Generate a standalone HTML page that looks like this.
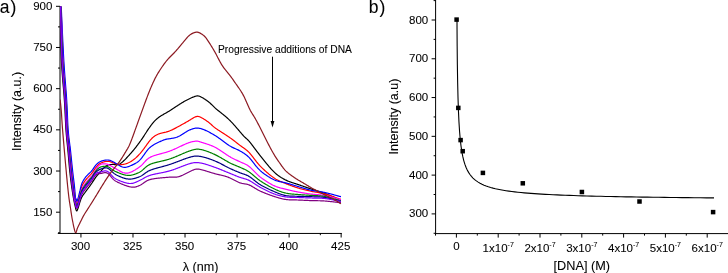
<!DOCTYPE html>
<html><head><meta charset="utf-8"><style>
html,body{margin:0;padding:0;background:#fff;}
svg{display:block;will-change:transform;}
text{font-family:"Liberation Sans",sans-serif;fill:#000;stroke:#000;stroke-width:0.08px;}
</style></head><body>
<svg width="728" height="273" viewBox="0 0 728 273" shape-rendering="auto">
<line x1="60.00" y1="6.30" x2="60.00" y2="233.50" stroke="#000" stroke-width="1"/>
<line x1="57.80" y1="233.45" x2="341.70" y2="233.45" stroke="#000" stroke-width="1"/>
<line x1="56.00" y1="212.20" x2="60.00" y2="212.20" stroke="#000" stroke-width="1"/>
<text x="52.40" y="215.80" font-size="11.5" text-anchor="end" >150</text>
<line x1="56.00" y1="171.02" x2="60.00" y2="171.02" stroke="#000" stroke-width="1"/>
<text x="52.40" y="174.62" font-size="11.5" text-anchor="end" >300</text>
<line x1="56.00" y1="129.84" x2="60.00" y2="129.84" stroke="#000" stroke-width="1"/>
<text x="52.40" y="133.44" font-size="11.5" text-anchor="end" >450</text>
<line x1="56.00" y1="88.66" x2="60.00" y2="88.66" stroke="#000" stroke-width="1"/>
<text x="52.40" y="92.26" font-size="11.5" text-anchor="end" >600</text>
<line x1="56.00" y1="47.48" x2="60.00" y2="47.48" stroke="#000" stroke-width="1"/>
<text x="52.40" y="51.08" font-size="11.5" text-anchor="end" >750</text>
<line x1="56.00" y1="6.30" x2="60.00" y2="6.30" stroke="#000" stroke-width="1"/>
<text x="52.40" y="9.90" font-size="11.5" text-anchor="end" >900</text>
<line x1="58.00" y1="232.79" x2="60.00" y2="232.79" stroke="#000" stroke-width="1"/>
<line x1="58.00" y1="191.61" x2="60.00" y2="191.61" stroke="#000" stroke-width="1"/>
<line x1="58.00" y1="150.43" x2="60.00" y2="150.43" stroke="#000" stroke-width="1"/>
<line x1="58.00" y1="109.25" x2="60.00" y2="109.25" stroke="#000" stroke-width="1"/>
<line x1="58.00" y1="68.07" x2="60.00" y2="68.07" stroke="#000" stroke-width="1"/>
<line x1="58.00" y1="26.89" x2="60.00" y2="26.89" stroke="#000" stroke-width="1"/>
<line x1="80.95" y1="233.00" x2="80.95" y2="237.50" stroke="#000" stroke-width="1"/>
<text x="80.50" y="249.80" font-size="11.5" text-anchor="middle" >300</text>
<line x1="132.99" y1="233.00" x2="132.99" y2="237.50" stroke="#000" stroke-width="1"/>
<text x="132.54" y="249.80" font-size="11.5" text-anchor="middle" >325</text>
<line x1="185.03" y1="233.00" x2="185.03" y2="237.50" stroke="#000" stroke-width="1"/>
<text x="184.58" y="249.80" font-size="11.5" text-anchor="middle" >350</text>
<line x1="237.07" y1="233.00" x2="237.07" y2="237.50" stroke="#000" stroke-width="1"/>
<text x="236.62" y="249.80" font-size="11.5" text-anchor="middle" >375</text>
<line x1="289.11" y1="233.00" x2="289.11" y2="237.50" stroke="#000" stroke-width="1"/>
<text x="288.66" y="249.80" font-size="11.5" text-anchor="middle" >400</text>
<line x1="341.15" y1="233.00" x2="341.15" y2="237.50" stroke="#000" stroke-width="1"/>
<text x="340.70" y="249.80" font-size="11.5" text-anchor="middle" >425</text>
<line x1="112.17" y1="233.00" x2="112.17" y2="235.20" stroke="#000" stroke-width="1"/>
<line x1="164.21" y1="233.00" x2="164.21" y2="235.20" stroke="#000" stroke-width="1"/>
<line x1="216.25" y1="233.00" x2="216.25" y2="235.20" stroke="#000" stroke-width="1"/>
<line x1="268.29" y1="233.00" x2="268.29" y2="235.20" stroke="#000" stroke-width="1"/>
<line x1="320.33" y1="233.00" x2="320.33" y2="235.20" stroke="#000" stroke-width="1"/>
<text x="200.60" y="270.60" font-size="12.6" text-anchor="middle" >&#955; (nm)</text>
<text x="20.80" y="111.50" font-size="12.5" text-anchor="middle" transform="rotate(-90 20.8 111.5)">Intensity (a.u.)</text>
<text x="218.00" y="53.10" font-size="10.25" text-anchor="start" >Progressive additions of DNA</text>
<line x1="272.50" y1="56.70" x2="272.50" y2="122.00" stroke="#000" stroke-width="1"/>
<path d="M270.6,121 L274.4,121 L272.5,127.5 Z" fill="#000"/>
<text x="-0.2" y="12.9" font-size="17.5">a<tspan x="10.6">)</tspan></text>
<clipPath id="ca"><rect x="60" y="6.3" width="282" height="227"/></clipPath>
<g clip-path="url(#ca)"><path d="M60.30,6.31 L60.35,8.95 L60.40,12.32 L60.45,16.29 L60.51,20.75 L60.58,25.59 L60.66,30.68 L60.75,35.91 L60.85,41.16 L60.97,46.32 L61.09,51.27 L61.24,55.89 L61.40,60.06 L61.59,63.91 L61.81,67.65 L62.05,71.28 L62.31,74.81 L62.59,78.25 L62.87,81.60 L63.15,84.87 L63.43,88.06 L63.70,91.18 L63.96,94.24 L64.19,97.24 L64.40,100.18 L64.58,103.07 L64.74,105.89 L64.89,108.64 L65.03,111.32 L65.15,113.93 L65.27,116.47 L65.38,118.94 L65.50,121.34 L65.61,123.67 L65.73,125.93 L65.86,128.13 L66.00,130.25 L66.15,132.27 L66.30,134.17 L66.46,135.97 L66.61,137.68 L66.78,139.32 L66.94,140.91 L67.10,142.47 L67.26,144.01 L67.42,145.54 L67.59,147.10 L67.74,148.69 L67.90,150.33 L68.05,152.02 L68.21,153.73 L68.36,155.47 L68.51,157.21 L68.66,158.95 L68.81,160.68 L68.96,162.39 L69.10,164.08 L69.25,165.74 L69.40,167.35 L69.55,168.91 L69.70,170.40 L69.85,171.84 L70.00,173.23 L70.14,174.57 L70.29,175.87 L70.43,177.13 L70.58,178.37 L70.73,179.58 L70.88,180.78 L71.03,181.96 L71.18,183.13 L71.34,184.30 L71.50,185.48 L71.67,186.67 L71.84,187.86 L72.02,189.06 L72.20,190.25 L72.38,191.42 L72.57,192.58 L72.75,193.71 L72.93,194.81 L73.11,195.86 L73.28,196.87 L73.45,197.82 L73.60,198.70 L73.75,199.52 L73.88,200.27 L74.02,200.97 L74.14,201.62 L74.27,202.23 L74.39,202.81 L74.51,203.35 L74.62,203.88 L74.74,204.39 L74.86,204.89 L74.98,205.39 L75.10,205.89 L75.22,206.41 L75.35,206.94 L75.47,207.48 L75.60,208.01 L75.72,208.53 L75.84,209.02 L75.97,209.48 L76.09,209.89 L76.22,210.24 L76.34,210.53 L76.47,210.74 L76.60,210.87 L76.73,210.90 L76.86,210.84 L76.99,210.71 L77.13,210.51 L77.26,210.25 L77.39,209.95 L77.53,209.61 L77.66,209.25 L77.80,208.87 L77.93,208.49 L78.07,208.11 L78.20,207.74 L78.33,207.38 L78.46,206.98 L78.59,206.57 L78.72,206.13 L78.85,205.68 L78.97,205.22 L79.10,204.75 L79.24,204.27 L79.37,203.80 L79.51,203.33 L79.65,202.87 L79.80,202.42 L79.95,201.98 L80.10,201.53 L80.24,201.08 L80.39,200.64 L80.54,200.19 L80.70,199.74 L80.86,199.30 L81.03,198.86 L81.21,198.42 L81.39,197.99 L81.59,197.56 L81.80,197.14 L82.03,196.73 L82.27,196.33 L82.52,195.92 L82.79,195.53 L83.06,195.13 L83.34,194.74 L83.62,194.36 L83.90,193.98 L84.19,193.60 L84.46,193.23 L84.74,192.86 L85.00,192.50 L85.25,192.15 L85.50,191.81 L85.74,191.49 L85.98,191.17 L86.21,190.86 L86.45,190.55 L86.69,190.24 L86.93,189.92 L87.18,189.59 L87.44,189.25 L87.72,188.88 L88.00,188.50 L88.30,188.10 L88.61,187.68 L88.93,187.25 L89.26,186.80 L89.60,186.35 L89.94,185.89 L90.28,185.42 L90.63,184.94 L90.98,184.46 L91.32,183.97 L91.66,183.49 L92.00,183.00 L92.50,182.19 L93.00,181.40 L93.50,180.60 L94.00,179.82 L94.50,179.05 L95.00,178.31 L95.50,177.59 L96.00,176.92 L96.50,176.28 L97.00,175.67 L97.50,175.08 L98.00,174.51 L98.50,173.94 L99.00,173.38 L99.50,172.81 L100.00,172.25 L100.50,171.68 L101.00,171.11 L101.50,170.54 L102.00,169.97 L102.50,169.41 L103.00,168.86 L103.50,168.33 L104.00,167.81 L104.50,167.32 L105.00,166.86 L105.50,166.43 L106.00,166.05 L106.50,165.71 L107.00,165.43 L107.50,165.19 L108.00,165.00 L108.50,164.85 L109.00,164.74 L109.50,164.66 L110.00,164.59 L110.50,164.55 L111.00,164.52 L111.50,164.49 L112.00,164.47 L112.50,164.46 L113.00,164.47 L113.50,164.48 L114.00,164.50 L114.50,164.53 L115.00,164.56 L115.50,164.59 L116.00,164.62 L116.50,164.62 L117.00,164.60 L117.50,164.56 L118.00,164.47 L118.50,164.34 L119.00,164.18 L119.50,163.96 L120.00,163.71 L120.50,163.42 L121.00,163.09 L121.50,162.73 L122.00,162.34 L122.50,161.92 L123.00,161.48 L123.50,161.03 L124.00,160.56 L124.50,160.07 L125.00,159.58 L125.50,159.07 L126.00,158.55 L126.50,158.03 L127.00,157.50 L127.50,156.96 L128.00,156.42 L128.50,155.87 L129.00,155.32 L129.50,154.77 L130.00,154.21 L130.50,153.64 L131.00,153.07 L131.50,152.50 L132.00,151.92 L132.50,151.33 L133.00,150.74 L133.50,150.13 L134.00,149.52 L134.50,148.91 L135.00,148.28 L135.50,147.65 L136.00,147.01 L136.50,146.37 L137.00,145.72 L137.50,145.06 L138.00,144.40 L138.50,143.73 L139.00,143.06 L139.50,142.37 L140.00,141.68 L140.50,140.98 L141.00,140.27 L141.50,139.55 L142.00,138.82 L142.50,138.08 L143.00,137.32 L143.50,136.57 L144.00,135.80 L144.50,135.03 L145.00,134.26 L145.50,133.50 L146.00,132.73 L146.50,131.96 L147.00,131.20 L147.50,130.44 L148.00,129.69 L148.50,128.95 L149.00,128.22 L149.50,127.50 L150.00,126.79 L150.50,126.09 L151.00,125.41 L151.50,124.74 L152.00,124.10 L152.50,123.47 L153.00,122.86 L153.50,122.27 L154.00,121.70 L154.50,121.16 L155.00,120.64 L155.50,120.14 L156.00,119.67 L156.50,119.21 L157.00,118.78 L157.50,118.36 L158.00,117.96 L158.50,117.58 L159.00,117.21 L159.50,116.85 L160.00,116.51 L160.50,116.18 L161.00,115.86 L161.50,115.54 L162.00,115.24 L162.50,114.94 L163.00,114.65 L163.50,114.36 L164.00,114.08 L164.50,113.80 L165.00,113.52 L165.50,113.24 L166.00,112.95 L166.50,112.67 L167.00,112.39 L167.50,112.10 L168.00,111.80 L168.50,111.50 L169.00,111.20 L169.50,110.89 L170.00,110.57 L170.50,110.25 L171.00,109.93 L171.50,109.60 L172.00,109.27 L172.50,108.94 L173.00,108.61 L173.50,108.28 L174.00,107.95 L174.50,107.62 L175.00,107.29 L175.50,106.95 L176.00,106.62 L176.50,106.29 L177.00,105.96 L177.50,105.64 L178.00,105.31 L178.50,104.98 L179.00,104.66 L179.50,104.34 L180.00,104.02 L180.50,103.70 L181.00,103.39 L181.50,103.08 L182.00,102.77 L182.50,102.46 L183.00,102.16 L183.50,101.87 L184.00,101.58 L184.50,101.29 L185.00,101.01 L185.50,100.73 L186.00,100.46 L186.50,100.19 L187.00,99.93 L187.50,99.67 L188.00,99.42 L188.50,99.17 L189.00,98.93 L189.50,98.69 L190.00,98.46 L190.50,98.23 L191.00,98.00 L191.50,97.78 L192.00,97.57 L192.50,97.36 L193.00,97.16 L193.50,96.96 L194.00,96.78 L194.50,96.60 L195.00,96.43 L195.50,96.27 L196.00,96.14 L196.50,96.03 L197.00,95.95 L197.50,95.91 L198.00,95.93 L198.50,95.99 L199.00,96.10 L199.50,96.26 L200.00,96.45 L200.50,96.67 L201.00,96.92 L201.50,97.18 L202.00,97.46 L202.50,97.75 L203.00,98.05 L203.50,98.36 L204.00,98.67 L204.50,98.99 L205.00,99.32 L205.50,99.66 L206.00,100.00 L206.50,100.35 L207.00,100.70 L207.50,101.06 L208.00,101.43 L208.50,101.81 L209.00,102.21 L209.50,102.62 L210.00,103.05 L210.50,103.50 L211.00,103.97 L211.50,104.45 L212.00,104.95 L212.50,105.45 L213.00,105.95 L213.50,106.45 L214.00,106.94 L214.50,107.42 L215.00,107.88 L215.50,108.33 L216.00,108.77 L216.50,109.19 L217.00,109.60 L217.50,110.01 L218.00,110.41 L218.50,110.80 L219.00,111.20 L219.50,111.59 L220.00,111.99 L220.50,112.38 L221.00,112.78 L221.50,113.18 L222.00,113.59 L222.50,113.99 L223.00,114.40 L223.50,114.81 L224.00,115.22 L224.50,115.63 L225.00,116.05 L225.50,116.47 L226.00,116.89 L226.50,117.32 L227.00,117.75 L227.50,118.19 L228.00,118.64 L228.50,119.10 L229.00,119.57 L229.50,120.06 L230.00,120.55 L230.50,121.05 L231.00,121.57 L231.50,122.09 L232.00,122.63 L232.50,123.17 L233.00,123.72 L233.50,124.28 L234.00,124.84 L234.50,125.40 L235.00,125.97 L235.50,126.54 L236.00,127.12 L236.50,127.69 L237.00,128.27 L237.50,128.85 L238.00,129.43 L238.50,130.01 L239.00,130.60 L239.50,131.19 L240.00,131.78 L240.50,132.37 L241.00,132.96 L241.50,133.54 L242.00,134.12 L242.50,134.69 L243.00,135.25 L243.50,135.79 L244.00,136.31 L244.50,136.81 L245.00,137.29 L245.50,137.74 L246.00,138.19 L246.50,138.64 L247.00,139.09 L247.50,139.56 L248.00,140.05 L248.50,140.58 L249.00,141.13 L249.50,141.71 L250.00,142.31 L250.50,142.93 L251.00,143.57 L251.50,144.22 L252.00,144.87 L252.50,145.53 L253.00,146.20 L253.50,146.87 L254.00,147.54 L254.50,148.21 L255.00,148.88 L255.50,149.54 L256.00,150.21 L256.50,150.87 L257.00,151.53 L257.50,152.18 L258.00,152.83 L258.50,153.48 L259.00,154.12 L259.50,154.76 L260.00,155.39 L260.50,156.02 L261.00,156.65 L261.50,157.28 L262.00,157.91 L262.50,158.53 L263.00,159.16 L263.50,159.79 L264.00,160.41 L264.50,161.04 L265.00,161.66 L265.50,162.28 L266.00,162.90 L266.50,163.51 L267.00,164.12 L267.50,164.73 L268.00,165.33 L268.50,165.93 L269.00,166.52 L269.50,167.10 L270.00,167.68 L270.50,168.25 L271.00,168.81 L271.50,169.36 L272.00,169.90 L272.50,170.42 L273.00,170.94 L273.50,171.44 L274.00,171.93 L274.50,172.41 L275.00,172.87 L275.50,173.32 L276.00,173.75 L276.50,174.18 L277.00,174.58 L277.50,174.98 L278.00,175.36 L278.50,175.73 L279.00,176.09 L279.50,176.44 L280.00,176.77 L280.50,177.10 L281.00,177.41 L281.50,177.72 L282.00,178.01 L282.50,178.30 L283.00,178.59 L283.50,178.86 L284.00,179.14 L284.50,179.40 L285.00,179.66 L285.50,179.92 L286.00,180.16 L286.50,180.40 L287.00,180.64 L287.50,180.86 L288.00,181.08 L288.50,181.28 L289.00,181.48 L289.50,181.68 L290.00,181.86 L290.50,182.04 L291.00,182.22 L291.50,182.39 L292.00,182.55 L292.50,182.72 L293.00,182.88 L293.50,183.04 L294.00,183.20 L294.50,183.36 L295.00,183.52 L295.50,183.68 L296.00,183.84 L296.50,184.01 L297.00,184.17 L297.50,184.34 L298.00,184.51 L298.50,184.68 L299.00,184.85 L299.50,185.02 L300.00,185.19 L300.50,185.36 L301.00,185.54 L301.50,185.71 L302.00,185.88 L302.50,186.05 L303.00,186.22 L303.50,186.39 L304.00,186.56 L304.50,186.73 L305.00,186.89 L305.50,187.06 L306.00,187.23 L306.50,187.40 L307.00,187.56 L307.50,187.73 L308.00,187.90 L308.50,188.07 L309.00,188.23 L309.50,188.40 L310.00,188.57 L310.50,188.73 L311.00,188.90 L311.50,189.06 L312.00,189.22 L312.50,189.38 L313.00,189.54 L313.50,189.70 L314.00,189.86 L314.50,190.02 L315.00,190.17 L315.50,190.33 L316.00,190.48 L316.50,190.64 L317.00,190.79 L317.50,190.95 L318.00,191.11 L318.50,191.26 L319.00,191.42 L319.50,191.58 L320.00,191.74 L320.50,191.91 L321.00,192.08 L321.50,192.25 L322.00,192.42 L322.50,192.59 L323.00,192.77 L323.50,192.95 L324.00,193.14 L324.50,193.33 L325.00,193.52 L325.50,193.71 L326.00,193.91 L326.50,194.11 L327.00,194.32 L327.50,194.52 L328.00,194.73 L328.50,194.94 L329.00,195.15 L329.50,195.37 L330.00,195.58 L330.50,195.80 L331.00,196.02 L331.50,196.24 L332.00,196.46 L332.50,196.68 L333.00,196.90 L333.50,197.13 L334.00,197.35 L334.50,197.57 L335.00,197.80 L335.50,198.02 L336.00,198.25 L336.50,198.47 L337.00,198.70 L337.50,198.92 L338.00,199.15 L338.50,199.36 L339.00,199.57 L339.50,199.77 L340.00,199.95 L340.50,200.11 L341.00,200.23" fill="none" stroke="#000000" stroke-width="1.2" stroke-linejoin="round"/>
<path d="M61.02,6.34 L61.13,8.99 L61.26,12.35 L61.42,16.33 L61.59,20.80 L61.78,25.64 L61.99,30.73 L62.20,35.97 L62.42,41.23 L62.65,46.39 L62.87,51.34 L63.10,55.96 L63.32,60.14 L63.55,63.99 L63.79,67.73 L64.04,71.37 L64.30,74.90 L64.56,78.33 L64.83,81.68 L65.09,84.95 L65.35,88.14 L65.59,91.26 L65.83,94.31 L66.04,97.31 L66.24,100.26 L66.41,103.15 L66.57,105.97 L66.70,108.72 L66.82,111.40 L66.94,114.00 L67.04,116.54 L67.15,119.01 L67.25,121.41 L67.36,123.74 L67.48,126.01 L67.61,128.20 L67.76,130.32 L67.92,132.35 L68.09,134.25 L68.27,136.05 L68.45,137.76 L68.64,139.40 L68.84,140.99 L69.03,142.55 L69.23,144.09 L69.42,145.63 L69.61,147.18 L69.80,148.77 L69.98,150.42 L70.16,152.11 L70.33,153.82 L70.51,155.55 L70.68,157.29 L70.85,159.03 L71.03,160.76 L71.20,162.48 L71.36,164.17 L71.53,165.82 L71.70,167.44 L71.86,169.00 L72.02,170.50 L72.18,171.95 L72.34,173.35 L72.50,174.70 L72.65,176.01 L72.81,177.29 L72.96,178.55 L73.11,179.78 L73.26,180.98 L73.41,182.18 L73.55,183.37 L73.69,184.55 L73.82,185.73 L73.95,186.93 L74.08,188.18 L74.21,189.44 L74.33,190.70 L74.46,191.95 L74.57,193.17 L74.69,194.34 L74.80,195.45 L74.91,196.48 L75.01,197.40 L75.11,198.22 L75.20,198.90 L75.29,199.43 L75.36,199.81 L75.44,200.06 L75.50,200.21 L75.57,200.28 L75.63,200.29 L75.69,200.27 L75.74,200.23 L75.80,200.20 L75.86,200.20 L75.92,200.26 L75.98,200.40 L76.04,200.61 L76.10,200.87 L76.16,201.17 L76.22,201.49 L76.27,201.83 L76.33,202.16 L76.39,202.47 L76.45,202.75 L76.52,202.98 L76.59,203.16 L76.67,203.26 L76.76,203.28 L76.86,203.22 L76.96,203.10 L77.07,202.91 L77.19,202.68 L77.31,202.40 L77.43,202.08 L77.56,201.73 L77.68,201.35 L77.81,200.96 L77.94,200.56 L78.07,200.15 L78.20,199.74 L78.33,199.33 L78.45,198.89 L78.58,198.42 L78.71,197.94 L78.84,197.44 L78.97,196.92 L79.10,196.39 L79.23,195.84 L79.37,195.29 L79.51,194.74 L79.65,194.18 L79.80,193.62 L79.95,193.05 L80.10,192.45 L80.24,191.84 L80.39,191.21 L80.54,190.58 L80.70,189.94 L80.86,189.31 L81.03,188.68 L81.21,188.06 L81.39,187.46 L81.59,186.89 L81.80,186.34 L82.03,185.82 L82.27,185.31 L82.52,184.81 L82.79,184.33 L83.06,183.85 L83.34,183.39 L83.62,182.94 L83.90,182.51 L84.19,182.09 L84.46,181.68 L84.74,181.28 L85.00,180.90 L85.25,180.54 L85.50,180.20 L85.74,179.89 L85.98,179.59 L86.21,179.30 L86.45,179.03 L86.69,178.76 L86.93,178.48 L87.18,178.21 L87.44,177.92 L87.72,177.62 L88.00,177.30 L88.30,176.97 L88.61,176.64 L88.93,176.31 L89.26,175.97 L89.60,175.63 L89.94,175.29 L90.28,174.93 L90.63,174.57 L90.98,174.20 L91.32,173.81 L91.66,173.41 L92.00,173.00 L92.50,172.28 L93.00,171.55 L93.50,170.80 L94.00,170.05 L94.50,169.32 L95.00,168.60 L95.50,167.93 L96.00,167.29 L96.50,166.67 L97.00,166.08 L97.50,165.54 L98.00,165.05 L98.50,164.58 L99.00,164.17 L99.50,163.80 L100.00,163.47 L100.50,163.19 L101.00,162.93 L101.50,162.71 L102.00,162.50 L102.50,162.31 L103.00,162.14 L103.50,161.99 L104.00,161.84 L104.50,161.71 L105.00,161.60 L105.50,161.49 L106.00,161.41 L106.50,161.35 L107.00,161.31 L107.50,161.29 L108.00,161.31 L108.50,161.35 L109.00,161.43 L109.50,161.53 L110.00,161.66 L110.50,161.81 L111.00,161.98 L111.50,162.16 L112.00,162.34 L112.50,162.52 L113.00,162.71 L113.50,162.91 L114.00,163.10 L114.50,163.30 L115.00,163.50 L115.50,163.69 L116.00,163.88 L116.50,164.06 L117.00,164.22 L117.50,164.37 L118.00,164.49 L118.50,164.58 L119.00,164.65 L119.50,164.69 L120.00,164.71 L120.50,164.71 L121.00,164.69 L121.50,164.65 L122.00,164.60 L122.50,164.53 L123.00,164.45 L123.50,164.36 L124.00,164.25 L124.50,164.14 L125.00,164.01 L125.50,163.88 L126.00,163.73 L126.50,163.56 L127.00,163.39 L127.50,163.20 L128.00,162.99 L128.50,162.77 L129.00,162.54 L129.50,162.29 L130.00,162.02 L130.50,161.74 L131.00,161.44 L131.50,161.13 L132.00,160.80 L132.50,160.46 L133.00,160.10 L133.50,159.72 L134.00,159.34 L134.50,158.93 L135.00,158.52 L135.50,158.09 L136.00,157.64 L136.50,157.19 L137.00,156.72 L137.50,156.23 L138.00,155.74 L138.50,155.23 L139.00,154.70 L139.50,154.17 L140.00,153.61 L140.50,153.04 L141.00,152.45 L141.50,151.84 L142.00,151.21 L142.50,150.57 L143.00,149.91 L143.50,149.24 L144.00,148.56 L144.50,147.87 L145.00,147.18 L145.50,146.48 L146.00,145.78 L146.50,145.08 L147.00,144.39 L147.50,143.71 L148.00,143.03 L148.50,142.36 L149.00,141.71 L149.50,141.08 L150.00,140.47 L150.50,139.89 L151.00,139.32 L151.50,138.79 L152.00,138.28 L152.50,137.79 L153.00,137.34 L153.50,136.91 L154.00,136.52 L154.50,136.15 L155.00,135.81 L155.50,135.50 L156.00,135.22 L156.50,134.95 L157.00,134.71 L157.50,134.47 L158.00,134.26 L158.50,134.05 L159.00,133.87 L159.50,133.69 L160.00,133.53 L160.50,133.38 L161.00,133.25 L161.50,133.12 L162.00,133.00 L162.50,132.89 L163.00,132.78 L163.50,132.67 L164.00,132.56 L164.50,132.45 L165.00,132.33 L165.50,132.21 L166.00,132.09 L166.50,131.95 L167.00,131.81 L167.50,131.66 L168.00,131.50 L168.50,131.33 L169.00,131.14 L169.50,130.95 L170.00,130.75 L170.50,130.54 L171.00,130.32 L171.50,130.10 L172.00,129.86 L172.50,129.63 L173.00,129.38 L173.50,129.14 L174.00,128.88 L174.50,128.63 L175.00,128.37 L175.50,128.11 L176.00,127.85 L176.50,127.58 L177.00,127.32 L177.50,127.05 L178.00,126.78 L178.50,126.51 L179.00,126.23 L179.50,125.96 L180.00,125.68 L180.50,125.41 L181.00,125.13 L181.50,124.85 L182.00,124.57 L182.50,124.29 L183.00,124.01 L183.50,123.73 L184.00,123.45 L184.50,123.17 L185.00,122.89 L185.50,122.61 L186.00,122.33 L186.50,122.05 L187.00,121.76 L187.50,121.47 L188.00,121.18 L188.50,120.88 L189.00,120.58 L189.50,120.27 L190.00,119.96 L190.50,119.65 L191.00,119.33 L191.50,119.02 L192.00,118.71 L192.50,118.40 L193.00,118.11 L193.50,117.82 L194.00,117.55 L194.50,117.29 L195.00,117.06 L195.50,116.85 L196.00,116.67 L196.50,116.54 L197.00,116.44 L197.50,116.40 L198.00,116.42 L198.50,116.48 L199.00,116.60 L199.50,116.75 L200.00,116.95 L200.50,117.17 L201.00,117.41 L201.50,117.67 L202.00,117.95 L202.50,118.23 L203.00,118.53 L203.50,118.84 L204.00,119.15 L204.50,119.47 L205.00,119.79 L205.50,120.12 L206.00,120.45 L206.50,120.79 L207.00,121.14 L207.50,121.49 L208.00,121.85 L208.50,122.22 L209.00,122.61 L209.50,123.01 L210.00,123.43 L210.50,123.86 L211.00,124.31 L211.50,124.77 L212.00,125.24 L212.50,125.70 L213.00,126.15 L213.50,126.58 L214.00,127.00 L214.50,127.40 L215.00,127.79 L215.50,128.16 L216.00,128.52 L216.50,128.87 L217.00,129.21 L217.50,129.55 L218.00,129.88 L218.50,130.21 L219.00,130.54 L219.50,130.87 L220.00,131.19 L220.50,131.51 L221.00,131.84 L221.50,132.16 L222.00,132.48 L222.50,132.80 L223.00,133.12 L223.50,133.44 L224.00,133.76 L224.50,134.09 L225.00,134.41 L225.50,134.73 L226.00,135.06 L226.50,135.39 L227.00,135.72 L227.50,136.05 L228.00,136.38 L228.50,136.72 L229.00,137.07 L229.50,137.41 L230.00,137.76 L230.50,138.12 L231.00,138.48 L231.50,138.84 L232.00,139.21 L232.50,139.58 L233.00,139.95 L233.50,140.33 L234.00,140.72 L234.50,141.10 L235.00,141.49 L235.50,141.88 L236.00,142.27 L236.50,142.66 L237.00,143.05 L237.50,143.44 L238.00,143.84 L238.50,144.22 L239.00,144.61 L239.50,144.99 L240.00,145.37 L240.50,145.74 L241.00,146.10 L241.50,146.46 L242.00,146.81 L242.50,147.16 L243.00,147.51 L243.50,147.86 L244.00,148.21 L244.50,148.56 L245.00,148.93 L245.50,149.30 L246.00,149.69 L246.50,150.10 L247.00,150.52 L247.50,150.96 L248.00,151.43 L248.50,151.91 L249.00,152.42 L249.50,152.95 L250.00,153.50 L250.50,154.08 L251.00,154.67 L251.50,155.29 L252.00,155.92 L252.50,156.56 L253.00,157.21 L253.50,157.86 L254.00,158.52 L254.50,159.18 L255.00,159.84 L255.50,160.49 L256.00,161.13 L256.50,161.77 L257.00,162.39 L257.50,163.00 L258.00,163.60 L258.50,164.18 L259.00,164.75 L259.50,165.30 L260.00,165.83 L260.50,166.36 L261.00,166.87 L261.50,167.37 L262.00,167.87 L262.50,168.35 L263.00,168.83 L263.50,169.30 L264.00,169.77 L264.50,170.23 L265.00,170.69 L265.50,171.14 L266.00,171.59 L266.50,172.03 L267.00,172.46 L267.50,172.89 L268.00,173.32 L268.50,173.74 L269.00,174.16 L269.50,174.56 L270.00,174.97 L270.50,175.37 L271.00,175.76 L271.50,176.14 L272.00,176.52 L272.50,176.89 L273.00,177.25 L273.50,177.61 L274.00,177.95 L274.50,178.28 L275.00,178.60 L275.50,178.92 L276.00,179.22 L276.50,179.50 L277.00,179.78 L277.50,180.05 L278.00,180.30 L278.50,180.55 L279.00,180.79 L279.50,181.02 L280.00,181.24 L280.50,181.45 L281.00,181.66 L281.50,181.87 L282.00,182.07 L282.50,182.27 L283.00,182.47 L283.50,182.66 L284.00,182.86 L284.50,183.06 L285.00,183.26 L285.50,183.46 L286.00,183.67 L286.50,183.87 L287.00,184.07 L287.50,184.27 L288.00,184.47 L288.50,184.67 L289.00,184.86 L289.50,185.05 L290.00,185.25 L290.50,185.43 L291.00,185.62 L291.50,185.81 L292.00,185.99 L292.50,186.17 L293.00,186.35 L293.50,186.52 L294.00,186.69 L294.50,186.86 L295.00,187.03 L295.50,187.20 L296.00,187.36 L296.50,187.52 L297.00,187.68 L297.50,187.83 L298.00,187.99 L298.50,188.14 L299.00,188.28 L299.50,188.43 L300.00,188.57 L300.50,188.71 L301.00,188.84 L301.50,188.98 L302.00,189.11 L302.50,189.24 L303.00,189.37 L303.50,189.49 L304.00,189.62 L304.50,189.74 L305.00,189.86 L305.50,189.98 L306.00,190.10 L306.50,190.21 L307.00,190.33 L307.50,190.44 L308.00,190.56 L308.50,190.67 L309.00,190.78 L309.50,190.90 L310.00,191.01 L310.50,191.12 L311.00,191.22 L311.50,191.33 L312.00,191.44 L312.50,191.54 L313.00,191.64 L313.50,191.73 L314.00,191.83 L314.50,191.92 L315.00,192.01 L315.50,192.09 L316.00,192.18 L316.50,192.26 L317.00,192.35 L317.50,192.44 L318.00,192.52 L318.50,192.61 L319.00,192.70 L319.50,192.79 L320.00,192.88 L320.50,192.98 L321.00,193.08 L321.50,193.18 L322.00,193.29 L322.50,193.40 L323.00,193.52 L323.50,193.64 L324.00,193.76 L324.50,193.89 L325.00,194.03 L325.50,194.16 L326.00,194.31 L326.50,194.46 L327.00,194.61 L327.50,194.76 L328.00,194.92 L328.50,195.08 L329.00,195.25 L329.50,195.41 L330.00,195.58 L330.50,195.75 L331.00,195.92 L331.50,196.09 L332.00,196.27 L332.50,196.44 L333.00,196.62 L333.50,196.80 L334.00,196.97 L334.50,197.15 L335.00,197.33 L335.50,197.51 L336.00,197.69 L336.50,197.87 L337.00,198.06 L337.50,198.24 L338.00,198.42 L338.50,198.59 L339.00,198.76 L339.50,198.92 L340.00,199.06 L340.50,199.19 L341.00,199.29" fill="none" stroke="#ff0000" stroke-width="1.2" stroke-linejoin="round"/>
<path d="M61.20,6.35 L61.32,8.99 L61.48,12.36 L61.66,16.34 L61.86,20.81 L62.08,25.65 L62.32,30.75 L62.56,35.98 L62.81,41.24 L63.07,46.41 L63.32,51.36 L63.56,55.98 L63.80,60.16 L64.04,64.01 L64.28,67.75 L64.54,71.39 L64.80,74.92 L65.06,78.35 L65.32,81.70 L65.58,84.97 L65.83,88.16 L66.07,91.28 L66.29,94.33 L66.51,97.33 L66.70,100.28 L66.87,103.17 L67.02,105.99 L67.15,108.74 L67.27,111.41 L67.38,114.02 L67.49,116.56 L67.59,119.03 L67.69,121.43 L67.80,123.76 L67.92,126.02 L68.05,128.22 L68.20,130.34 L68.36,132.37 L68.54,134.27 L68.72,136.07 L68.91,137.78 L69.11,139.42 L69.31,141.01 L69.52,142.57 L69.72,144.10 L69.92,145.64 L70.12,147.20 L70.31,148.79 L70.50,150.44 L70.68,152.13 L70.87,153.85 L71.05,155.58 L71.23,157.33 L71.40,159.07 L71.58,160.81 L71.76,162.53 L71.93,164.22 L72.10,165.89 L72.27,167.50 L72.44,169.07 L72.60,170.57 L72.76,172.02 L72.92,173.42 L73.09,174.78 L73.24,176.09 L73.40,177.37 L73.56,178.62 L73.71,179.85 L73.86,181.06 L74.00,182.25 L74.14,183.44 L74.27,184.62 L74.40,185.80 L74.52,187.01 L74.64,188.26 L74.76,189.54 L74.87,190.82 L74.97,192.09 L75.08,193.32 L75.17,194.50 L75.27,195.61 L75.36,196.63 L75.44,197.54 L75.52,198.32 L75.60,198.95 L75.67,199.41 L75.73,199.69 L75.79,199.83 L75.84,199.86 L75.89,199.79 L75.94,199.66 L75.98,199.49 L76.02,199.31 L76.06,199.15 L76.11,199.03 L76.15,198.98 L76.20,199.02 L76.25,199.16 L76.29,199.35 L76.33,199.59 L76.37,199.86 L76.41,200.15 L76.45,200.44 L76.49,200.71 L76.54,200.96 L76.59,201.17 L76.65,201.32 L76.72,201.39 L76.80,201.39 L76.89,201.30 L76.98,201.16 L77.09,200.96 L77.20,200.72 L77.32,200.43 L77.44,200.11 L77.56,199.76 L77.69,199.38 L77.82,198.98 L77.95,198.58 L78.07,198.16 L78.20,197.74 L78.33,197.32 L78.45,196.86 L78.58,196.39 L78.70,195.89 L78.83,195.37 L78.96,194.84 L79.09,194.30 L79.23,193.74 L79.37,193.17 L79.51,192.59 L79.65,192.01 L79.80,191.42 L79.95,190.82 L80.10,190.19 L80.24,189.53 L80.39,188.86 L80.54,188.18 L80.70,187.49 L80.86,186.81 L81.03,186.13 L81.21,185.47 L81.39,184.83 L81.59,184.22 L81.80,183.64 L82.03,183.09 L82.27,182.56 L82.52,182.03 L82.79,181.53 L83.06,181.03 L83.34,180.55 L83.62,180.09 L83.90,179.64 L84.19,179.21 L84.46,178.79 L84.74,178.39 L85.00,178.00 L85.25,177.63 L85.50,177.30 L85.74,176.99 L85.98,176.69 L86.21,176.41 L86.45,176.15 L86.69,175.89 L86.93,175.62 L87.18,175.36 L87.44,175.09 L87.72,174.80 L88.00,174.50 L88.30,174.19 L88.61,173.88 L88.93,173.57 L89.26,173.27 L89.60,172.95 L89.94,172.64 L90.28,172.31 L90.63,171.98 L90.98,171.63 L91.32,171.27 L91.66,170.89 L92.00,170.50 L92.50,169.80 L93.00,169.07 L93.50,168.33 L94.00,167.58 L94.50,166.86 L95.00,166.17 L95.50,165.53 L96.00,164.94 L96.50,164.39 L97.00,163.88 L97.50,163.42 L98.00,163.01 L98.50,162.63 L99.00,162.29 L99.50,161.99 L100.00,161.73 L100.50,161.50 L101.00,161.29 L101.50,161.10 L102.00,160.93 L102.50,160.77 L103.00,160.63 L103.50,160.50 L104.00,160.38 L104.50,160.27 L105.00,160.18 L105.50,160.10 L106.00,160.04 L106.50,160.00 L107.00,159.98 L107.50,159.98 L108.00,160.01 L108.50,160.07 L109.00,160.16 L109.50,160.28 L110.00,160.43 L110.50,160.60 L111.00,160.80 L111.50,161.01 L112.00,161.24 L112.50,161.49 L113.00,161.75 L113.50,162.02 L114.00,162.29 L114.50,162.58 L115.00,162.88 L115.50,163.19 L116.00,163.49 L116.50,163.81 L117.00,164.12 L117.50,164.43 L118.00,164.74 L118.50,165.03 L119.00,165.32 L119.50,165.60 L120.00,165.87 L120.50,166.13 L121.00,166.37 L121.50,166.59 L122.00,166.79 L122.50,166.97 L123.00,167.11 L123.50,167.23 L124.00,167.30 L124.50,167.34 L125.00,167.34 L125.50,167.31 L126.00,167.25 L126.50,167.16 L127.00,167.04 L127.50,166.90 L128.00,166.75 L128.50,166.58 L129.00,166.40 L129.50,166.20 L130.00,165.99 L130.50,165.78 L131.00,165.56 L131.50,165.33 L132.00,165.10 L132.50,164.86 L133.00,164.62 L133.50,164.38 L134.00,164.14 L134.50,163.88 L135.00,163.62 L135.50,163.35 L136.00,163.06 L136.50,162.76 L137.00,162.43 L137.50,162.08 L138.00,161.71 L138.50,161.31 L139.00,160.88 L139.50,160.41 L140.00,159.91 L140.50,159.38 L141.00,158.80 L141.50,158.20 L142.00,157.56 L142.50,156.89 L143.00,156.20 L143.50,155.50 L144.00,154.79 L144.50,154.08 L145.00,153.37 L145.50,152.67 L146.00,151.98 L146.50,151.32 L147.00,150.67 L147.50,150.06 L148.00,149.47 L148.50,148.92 L149.00,148.40 L149.50,147.91 L150.00,147.45 L150.50,147.02 L151.00,146.62 L151.50,146.24 L152.00,145.88 L152.50,145.54 L153.00,145.22 L153.50,144.91 L154.00,144.61 L154.50,144.32 L155.00,144.04 L155.50,143.77 L156.00,143.50 L156.50,143.25 L157.00,143.00 L157.50,142.75 L158.00,142.51 L158.50,142.28 L159.00,142.04 L159.50,141.82 L160.00,141.59 L160.50,141.37 L161.00,141.15 L161.50,140.94 L162.00,140.72 L162.50,140.51 L163.00,140.31 L163.50,140.11 L164.00,139.92 L164.50,139.74 L165.00,139.57 L165.50,139.43 L166.00,139.30 L166.50,139.19 L167.00,139.10 L167.50,139.02 L168.00,138.95 L168.50,138.89 L169.00,138.82 L169.50,138.75 L170.00,138.67 L170.50,138.60 L171.00,138.51 L171.50,138.43 L172.00,138.35 L172.50,138.26 L173.00,138.17 L173.50,138.07 L174.00,137.97 L174.50,137.86 L175.00,137.74 L175.50,137.61 L176.00,137.46 L176.50,137.30 L177.00,137.12 L177.50,136.92 L178.00,136.71 L178.50,136.49 L179.00,136.24 L179.50,135.98 L180.00,135.71 L180.50,135.42 L181.00,135.13 L181.50,134.82 L182.00,134.51 L182.50,134.19 L183.00,133.87 L183.50,133.55 L184.00,133.23 L184.50,132.91 L185.00,132.59 L185.50,132.28 L186.00,131.97 L186.50,131.67 L187.00,131.37 L187.50,131.09 L188.00,130.82 L188.50,130.56 L189.00,130.31 L189.50,130.07 L190.00,129.85 L190.50,129.64 L191.00,129.44 L191.50,129.25 L192.00,129.07 L192.50,128.90 L193.00,128.74 L193.50,128.60 L194.00,128.47 L194.50,128.35 L195.00,128.26 L195.50,128.18 L196.00,128.13 L196.50,128.10 L197.00,128.08 L197.50,128.09 L198.00,128.12 L198.50,128.17 L199.00,128.24 L199.50,128.32 L200.00,128.42 L200.50,128.54 L201.00,128.67 L201.50,128.82 L202.00,128.97 L202.50,129.14 L203.00,129.32 L203.50,129.51 L204.00,129.71 L204.50,129.92 L205.00,130.13 L205.50,130.36 L206.00,130.58 L206.50,130.82 L207.00,131.06 L207.50,131.30 L208.00,131.55 L208.50,131.81 L209.00,132.07 L209.50,132.33 L210.00,132.60 L210.50,132.87 L211.00,133.15 L211.50,133.42 L212.00,133.70 L212.50,133.99 L213.00,134.28 L213.50,134.57 L214.00,134.86 L214.50,135.16 L215.00,135.47 L215.50,135.78 L216.00,136.10 L216.50,136.42 L217.00,136.75 L217.50,137.09 L218.00,137.43 L218.50,137.78 L219.00,138.14 L219.50,138.50 L220.00,138.86 L220.50,139.22 L221.00,139.59 L221.50,139.97 L222.00,140.34 L222.50,140.71 L223.00,141.09 L223.50,141.47 L224.00,141.84 L224.50,142.21 L225.00,142.59 L225.50,142.96 L226.00,143.32 L226.50,143.68 L227.00,144.04 L227.50,144.39 L228.00,144.73 L228.50,145.07 L229.00,145.40 L229.50,145.71 L230.00,146.02 L230.50,146.32 L231.00,146.60 L231.50,146.88 L232.00,147.14 L232.50,147.40 L233.00,147.64 L233.50,147.88 L234.00,148.11 L234.50,148.33 L235.00,148.55 L235.50,148.77 L236.00,148.99 L236.50,149.21 L237.00,149.44 L237.50,149.66 L238.00,149.90 L238.50,150.15 L239.00,150.40 L239.50,150.66 L240.00,150.94 L240.50,151.21 L241.00,151.50 L241.50,151.79 L242.00,152.09 L242.50,152.39 L243.00,152.70 L243.50,153.02 L244.00,153.34 L244.50,153.68 L245.00,154.03 L245.50,154.39 L246.00,154.77 L246.50,155.16 L247.00,155.57 L247.50,156.00 L248.00,156.45 L248.50,156.93 L249.00,157.42 L249.50,157.94 L250.00,158.48 L250.50,159.05 L251.00,159.64 L251.50,160.25 L252.00,160.87 L252.50,161.51 L253.00,162.15 L253.50,162.80 L254.00,163.46 L254.50,164.11 L255.00,164.76 L255.50,165.39 L256.00,166.02 L256.50,166.64 L257.00,167.23 L257.50,167.81 L258.00,168.37 L258.50,168.91 L259.00,169.43 L259.50,169.93 L260.00,170.41 L260.50,170.86 L261.00,171.31 L261.50,171.73 L262.00,172.15 L262.50,172.55 L263.00,172.94 L263.50,173.32 L264.00,173.70 L264.50,174.06 L265.00,174.42 L265.50,174.77 L266.00,175.11 L266.50,175.45 L267.00,175.78 L267.50,176.11 L268.00,176.42 L268.50,176.74 L269.00,177.04 L269.50,177.34 L270.00,177.64 L270.50,177.92 L271.00,178.21 L271.50,178.48 L272.00,178.75 L272.50,179.01 L273.00,179.27 L273.50,179.51 L274.00,179.75 L274.50,179.97 L275.00,180.18 L275.50,180.38 L276.00,180.57 L276.50,180.74 L277.00,180.90 L277.50,181.05 L278.00,181.19 L278.50,181.31 L279.00,181.43 L279.50,181.54 L280.00,181.65 L280.50,181.75 L281.00,181.84 L281.50,181.94 L282.00,182.03 L282.50,182.13 L283.00,182.23 L283.50,182.33 L284.00,182.44 L284.50,182.55 L285.00,182.68 L285.50,182.80 L286.00,182.93 L286.50,183.07 L287.00,183.21 L287.50,183.35 L288.00,183.50 L288.50,183.64 L289.00,183.79 L289.50,183.94 L290.00,184.09 L290.50,184.24 L291.00,184.39 L291.50,184.54 L292.00,184.69 L292.50,184.85 L293.00,185.00 L293.50,185.15 L294.00,185.30 L294.50,185.45 L295.00,185.60 L295.50,185.75 L296.00,185.90 L296.50,186.05 L297.00,186.20 L297.50,186.35 L298.00,186.50 L298.50,186.65 L299.00,186.80 L299.50,186.95 L300.00,187.10 L300.50,187.25 L301.00,187.41 L301.50,187.56 L302.00,187.71 L302.50,187.86 L303.00,188.01 L303.50,188.17 L304.00,188.32 L304.50,188.47 L305.00,188.62 L305.50,188.76 L306.00,188.91 L306.50,189.05 L307.00,189.19 L307.50,189.33 L308.00,189.47 L308.50,189.60 L309.00,189.73 L309.50,189.85 L310.00,189.98 L310.50,190.10 L311.00,190.21 L311.50,190.32 L312.00,190.42 L312.50,190.52 L313.00,190.62 L313.50,190.71 L314.00,190.79 L314.50,190.87 L315.00,190.95 L315.50,191.03 L316.00,191.10 L316.50,191.17 L317.00,191.24 L317.50,191.30 L318.00,191.37 L318.50,191.44 L319.00,191.51 L319.50,191.58 L320.00,191.65 L320.50,191.72 L321.00,191.79 L321.50,191.87 L322.00,191.95 L322.50,192.04 L323.00,192.13 L323.50,192.22 L324.00,192.32 L324.50,192.42 L325.00,192.52 L325.50,192.63 L326.00,192.74 L326.50,192.86 L327.00,192.98 L327.50,193.10 L328.00,193.23 L328.50,193.35 L329.00,193.48 L329.50,193.61 L330.00,193.74 L330.50,193.87 L331.00,194.01 L331.50,194.14 L332.00,194.28 L332.50,194.42 L333.00,194.55 L333.50,194.69 L334.00,194.83 L334.50,194.97 L335.00,195.11 L335.50,195.25 L336.00,195.39 L336.50,195.53 L337.00,195.67 L337.50,195.81 L338.00,195.95 L338.50,196.09 L339.00,196.22 L339.50,196.35 L340.00,196.46 L340.50,196.56 L341.00,196.63" fill="none" stroke="#0000ff" stroke-width="1.2" stroke-linejoin="round"/>
<path d="M60.84,6.33 L60.93,8.98 L61.05,12.34 L61.18,16.32 L61.32,20.78 L61.48,25.62 L61.66,30.72 L61.84,35.95 L62.03,41.21 L62.23,46.37 L62.43,51.32 L62.63,55.94 L62.84,60.12 L63.06,63.97 L63.29,67.71 L63.54,71.35 L63.80,74.88 L64.07,78.31 L64.34,81.66 L64.61,84.93 L64.87,88.12 L65.12,91.24 L65.36,94.29 L65.58,97.29 L65.78,100.24 L65.96,103.13 L66.11,105.95 L66.25,108.70 L66.37,111.38 L66.49,113.99 L66.60,116.53 L66.71,118.99 L66.81,121.40 L66.93,123.73 L67.04,125.99 L67.18,128.18 L67.32,130.31 L67.48,132.33 L67.64,134.23 L67.82,136.03 L67.99,137.74 L68.18,139.38 L68.36,140.97 L68.55,142.53 L68.74,144.07 L68.92,145.61 L69.11,147.16 L69.29,148.75 L69.46,150.39 L69.63,152.08 L69.80,153.80 L69.97,155.53 L70.14,157.27 L70.31,159.01 L70.47,160.74 L70.64,162.46 L70.80,164.15 L70.96,165.80 L71.12,167.41 L71.28,168.97 L71.44,170.48 L71.60,171.92 L71.75,173.31 L71.91,174.66 L72.06,175.97 L72.21,177.25 L72.37,178.50 L72.52,179.72 L72.66,180.92 L72.81,182.11 L72.96,183.30 L73.10,184.48 L73.24,185.66 L73.38,186.86 L73.52,188.09 L73.66,189.33 L73.80,190.58 L73.94,191.81 L74.07,193.02 L74.20,194.18 L74.33,195.29 L74.46,196.32 L74.58,197.27 L74.69,198.12 L74.80,198.85 L74.90,199.45 L74.99,199.92 L75.08,200.29 L75.16,200.56 L75.24,200.77 L75.32,200.92 L75.39,201.03 L75.46,201.13 L75.53,201.24 L75.61,201.37 L75.68,201.54 L75.76,201.77 L75.84,202.06 L75.91,202.40 L75.99,202.77 L76.06,203.16 L76.13,203.55 L76.21,203.93 L76.28,204.29 L76.36,204.61 L76.44,204.88 L76.53,205.10 L76.62,205.23 L76.72,205.28 L76.82,205.24 L76.94,205.13 L77.05,204.95 L77.17,204.71 L77.29,204.43 L77.42,204.10 L77.55,203.74 L77.68,203.36 L77.81,202.96 L77.94,202.55 L78.07,202.15 L78.20,201.74 L78.33,201.34 L78.46,200.91 L78.58,200.45 L78.71,199.98 L78.84,199.49 L78.97,198.99 L79.10,198.47 L79.23,197.95 L79.37,197.42 L79.51,196.89 L79.65,196.35 L79.80,195.82 L79.95,195.28 L80.10,194.72 L80.24,194.15 L80.39,193.57 L80.54,192.98 L80.70,192.39 L80.86,191.80 L81.03,191.22 L81.21,190.65 L81.39,190.10 L81.59,189.56 L81.80,189.04 L82.03,188.55 L82.27,188.06 L82.52,187.59 L82.79,187.13 L83.06,186.67 L83.34,186.23 L83.62,185.80 L83.90,185.38 L84.19,184.97 L84.46,184.57 L84.74,184.18 L85.00,183.80 L85.25,183.44 L85.50,183.10 L85.74,182.79 L85.98,182.49 L86.21,182.19 L86.45,181.91 L86.69,181.63 L86.93,181.34 L87.18,181.05 L87.44,180.75 L87.72,180.43 L88.00,180.10 L88.30,179.75 L88.61,179.40 L88.93,179.04 L89.26,178.68 L89.60,178.31 L89.94,177.94 L90.28,177.55 L90.63,177.16 L90.98,176.76 L91.32,176.35 L91.66,175.93 L92.00,175.50 L92.50,174.77 L93.00,174.04 L93.50,173.30 L94.00,172.55 L94.50,171.80 L95.00,171.05 L95.50,170.30 L96.00,169.56 L96.50,168.80 L97.00,168.04 L97.50,167.32 L98.00,166.68 L98.50,166.09 L99.00,165.57 L99.50,165.12 L100.00,164.76 L100.50,164.48 L101.00,164.25 L101.50,164.09 L102.00,163.96 L102.50,163.88 L103.00,163.82 L103.50,163.79 L104.00,163.78 L104.50,163.79 L105.00,163.82 L105.50,163.87 L106.00,163.94 L106.50,164.03 L107.00,164.14 L107.50,164.28 L108.00,164.44 L108.50,164.63 L109.00,164.85 L109.50,165.09 L110.00,165.35 L110.50,165.63 L111.00,165.92 L111.50,166.22 L112.00,166.53 L112.50,166.83 L113.00,167.13 L113.50,167.42 L114.00,167.71 L114.50,167.99 L115.00,168.27 L115.50,168.55 L116.00,168.83 L116.50,169.12 L117.00,169.40 L117.50,169.69 L118.00,169.99 L118.50,170.28 L119.00,170.57 L119.50,170.86 L120.00,171.14 L120.50,171.41 L121.00,171.66 L121.50,171.91 L122.00,172.13 L122.50,172.34 L123.00,172.53 L123.50,172.70 L124.00,172.85 L124.50,172.96 L125.00,173.06 L125.50,173.12 L126.00,173.15 L126.50,173.16 L127.00,173.13 L127.50,173.08 L128.00,173.00 L128.50,172.89 L129.00,172.76 L129.50,172.61 L130.00,172.44 L130.50,172.26 L131.00,172.05 L131.50,171.83 L132.00,171.60 L132.50,171.35 L133.00,171.10 L133.50,170.83 L134.00,170.55 L134.50,170.26 L135.00,169.97 L135.50,169.66 L136.00,169.35 L136.50,169.03 L137.00,168.71 L137.50,168.38 L138.00,168.04 L138.50,167.70 L139.00,167.35 L139.50,166.98 L140.00,166.60 L140.50,166.20 L141.00,165.77 L141.50,165.32 L142.00,164.84 L142.50,164.33 L143.00,163.80 L143.50,163.25 L144.00,162.69 L144.50,162.12 L145.00,161.57 L145.50,161.03 L146.00,160.51 L146.50,160.01 L147.00,159.55 L147.50,159.12 L148.00,158.72 L148.50,158.35 L149.00,158.01 L149.50,157.70 L150.00,157.41 L150.50,157.14 L151.00,156.90 L151.50,156.67 L152.00,156.45 L152.50,156.25 L153.00,156.06 L153.50,155.88 L154.00,155.70 L154.50,155.53 L155.00,155.37 L155.50,155.22 L156.00,155.06 L156.50,154.92 L157.00,154.77 L157.50,154.63 L158.00,154.49 L158.50,154.35 L159.00,154.22 L159.50,154.09 L160.00,153.95 L160.50,153.82 L161.00,153.69 L161.50,153.56 L162.00,153.42 L162.50,153.29 L163.00,153.16 L163.50,153.02 L164.00,152.89 L164.50,152.75 L165.00,152.61 L165.50,152.46 L166.00,152.32 L166.50,152.17 L167.00,152.01 L167.50,151.86 L168.00,151.69 L168.50,151.53 L169.00,151.35 L169.50,151.18 L170.00,150.99 L170.50,150.80 L171.00,150.61 L171.50,150.41 L172.00,150.21 L172.50,150.00 L173.00,149.79 L173.50,149.57 L174.00,149.35 L174.50,149.13 L175.00,148.91 L175.50,148.68 L176.00,148.45 L176.50,148.22 L177.00,147.99 L177.50,147.76 L178.00,147.52 L178.50,147.29 L179.00,147.05 L179.50,146.81 L180.00,146.57 L180.50,146.33 L181.00,146.10 L181.50,145.86 L182.00,145.62 L182.50,145.39 L183.00,145.15 L183.50,144.92 L184.00,144.69 L184.50,144.46 L185.00,144.24 L185.50,144.02 L186.00,143.80 L186.50,143.59 L187.00,143.39 L187.50,143.19 L188.00,143.00 L188.50,142.82 L189.00,142.64 L189.50,142.48 L190.00,142.32 L190.50,142.17 L191.00,142.03 L191.50,141.90 L192.00,141.78 L192.50,141.67 L193.00,141.57 L193.50,141.48 L194.00,141.40 L194.50,141.33 L195.00,141.27 L195.50,141.22 L196.00,141.19 L196.50,141.17 L197.00,141.18 L197.50,141.21 L198.00,141.28 L198.50,141.38 L199.00,141.51 L199.50,141.65 L200.00,141.82 L200.50,141.98 L201.00,142.15 L201.50,142.31 L202.00,142.48 L202.50,142.63 L203.00,142.79 L203.50,142.94 L204.00,143.10 L204.50,143.25 L205.00,143.41 L205.50,143.56 L206.00,143.72 L206.50,143.88 L207.00,144.05 L207.50,144.21 L208.00,144.38 L208.50,144.55 L209.00,144.73 L209.50,144.90 L210.00,145.09 L210.50,145.28 L211.00,145.47 L211.50,145.67 L212.00,145.87 L212.50,146.08 L213.00,146.30 L213.50,146.53 L214.00,146.76 L214.50,147.00 L215.00,147.26 L215.50,147.52 L216.00,147.79 L216.50,148.07 L217.00,148.36 L217.50,148.65 L218.00,148.95 L218.50,149.26 L219.00,149.58 L219.50,149.90 L220.00,150.22 L220.50,150.55 L221.00,150.88 L221.50,151.22 L222.00,151.56 L222.50,151.90 L223.00,152.24 L223.50,152.58 L224.00,152.93 L224.50,153.27 L225.00,153.61 L225.50,153.95 L226.00,154.29 L226.50,154.63 L227.00,154.96 L227.50,155.29 L228.00,155.61 L228.50,155.93 L229.00,156.25 L229.50,156.55 L230.00,156.85 L230.50,157.14 L231.00,157.43 L231.50,157.70 L232.00,157.97 L232.50,158.24 L233.00,158.50 L233.50,158.75 L234.00,159.00 L234.50,159.24 L235.00,159.48 L235.50,159.71 L236.00,159.94 L236.50,160.17 L237.00,160.40 L237.50,160.63 L238.00,160.86 L238.50,161.09 L239.00,161.33 L239.50,161.56 L240.00,161.79 L240.50,162.02 L241.00,162.24 L241.50,162.46 L242.00,162.68 L242.50,162.89 L243.00,163.11 L243.50,163.32 L244.00,163.54 L244.50,163.76 L245.00,163.99 L245.50,164.24 L246.00,164.49 L246.50,164.77 L247.00,165.06 L247.50,165.36 L248.00,165.69 L248.50,166.04 L249.00,166.41 L249.50,166.81 L250.00,167.23 L250.50,167.66 L251.00,168.12 L251.50,168.60 L252.00,169.09 L252.50,169.59 L253.00,170.10 L253.50,170.61 L254.00,171.13 L254.50,171.65 L255.00,172.17 L255.50,172.69 L256.00,173.19 L256.50,173.69 L257.00,174.18 L257.50,174.66 L258.00,175.12 L258.50,175.57 L259.00,176.01 L259.50,176.43 L260.00,176.84 L260.50,177.24 L261.00,177.62 L261.50,178.00 L262.00,178.37 L262.50,178.73 L263.00,179.08 L263.50,179.43 L264.00,179.78 L264.50,180.12 L265.00,180.45 L265.50,180.78 L266.00,181.11 L266.50,181.43 L267.00,181.75 L267.50,182.06 L268.00,182.37 L268.50,182.67 L269.00,182.97 L269.50,183.26 L270.00,183.55 L270.50,183.83 L271.00,184.11 L271.50,184.39 L272.00,184.65 L272.50,184.92 L273.00,185.17 L273.50,185.42 L274.00,185.66 L274.50,185.89 L275.00,186.11 L275.50,186.32 L276.00,186.52 L276.50,186.72 L277.00,186.90 L277.50,187.07 L278.00,187.24 L278.50,187.40 L279.00,187.55 L279.50,187.69 L280.00,187.83 L280.50,187.96 L281.00,188.08 L281.50,188.21 L282.00,188.33 L282.50,188.45 L283.00,188.57 L283.50,188.69 L284.00,188.81 L284.50,188.93 L285.00,189.06 L285.50,189.18 L286.00,189.31 L286.50,189.43 L287.00,189.56 L287.50,189.68 L288.00,189.81 L288.50,189.93 L289.00,190.05 L289.50,190.17 L290.00,190.29 L290.50,190.41 L291.00,190.52 L291.50,190.64 L292.00,190.75 L292.50,190.86 L293.00,190.97 L293.50,191.08 L294.00,191.19 L294.50,191.29 L295.00,191.40 L295.50,191.50 L296.00,191.60 L296.50,191.70 L297.00,191.80 L297.50,191.90 L298.00,191.99 L298.50,192.09 L299.00,192.18 L299.50,192.27 L300.00,192.36 L300.50,192.45 L301.00,192.54 L301.50,192.63 L302.00,192.71 L302.50,192.80 L303.00,192.88 L303.50,192.96 L304.00,193.04 L304.50,193.12 L305.00,193.20 L305.50,193.28 L306.00,193.35 L306.50,193.43 L307.00,193.50 L307.50,193.57 L308.00,193.65 L308.50,193.72 L309.00,193.79 L309.50,193.85 L310.00,193.92 L310.50,193.99 L311.00,194.05 L311.50,194.11 L312.00,194.17 L312.50,194.22 L313.00,194.27 L313.50,194.32 L314.00,194.37 L314.50,194.41 L315.00,194.45 L315.50,194.49 L316.00,194.52 L316.50,194.56 L317.00,194.60 L317.50,194.63 L318.00,194.67 L318.50,194.71 L319.00,194.75 L319.50,194.79 L320.00,194.84 L320.50,194.89 L321.00,194.94 L321.50,195.00 L322.00,195.06 L322.50,195.12 L323.00,195.19 L323.50,195.27 L324.00,195.35 L324.50,195.44 L325.00,195.53 L325.50,195.63 L326.00,195.73 L326.50,195.84 L327.00,195.95 L327.50,196.06 L328.00,196.18 L328.50,196.30 L329.00,196.43 L329.50,196.56 L330.00,196.69 L330.50,196.82 L331.00,196.95 L331.50,197.09 L332.00,197.22 L332.50,197.36 L333.00,197.50 L333.50,197.64 L334.00,197.78 L334.50,197.93 L335.00,198.07 L335.50,198.21 L336.00,198.36 L336.50,198.50 L337.00,198.65 L337.50,198.79 L338.00,198.93 L338.50,199.07 L339.00,199.21 L339.50,199.34 L340.00,199.45 L340.50,199.55 L341.00,199.63" fill="none" stroke="#ff00ff" stroke-width="1.2" stroke-linejoin="round"/>
<path d="M60.75,6.33 L60.84,8.97 L60.94,12.34 L61.06,16.31 L61.19,20.78 L61.33,25.62 L61.49,30.71 L61.66,35.95 L61.83,41.20 L62.02,46.36 L62.21,51.31 L62.40,55.93 L62.60,60.11 L62.81,63.96 L63.04,67.70 L63.29,71.33 L63.55,74.87 L63.82,78.30 L64.09,81.65 L64.36,84.92 L64.63,88.11 L64.89,91.23 L65.13,94.28 L65.35,97.28 L65.55,100.23 L65.73,103.12 L65.88,105.94 L66.02,108.69 L66.15,111.37 L66.27,113.98 L66.38,116.52 L66.49,118.99 L66.59,121.39 L66.71,123.72 L66.83,125.98 L66.96,128.17 L67.10,130.30 L67.26,132.32 L67.42,134.22 L67.59,136.02 L67.76,137.73 L67.94,139.37 L68.13,140.96 L68.31,142.52 L68.49,144.06 L68.67,145.60 L68.85,147.15 L69.03,148.74 L69.20,150.38 L69.37,152.07 L69.54,153.79 L69.70,155.52 L69.87,157.26 L70.03,159.00 L70.19,160.73 L70.36,162.45 L70.52,164.14 L70.68,165.79 L70.84,167.40 L70.99,168.96 L71.15,170.46 L71.31,171.91 L71.46,173.30 L71.61,174.65 L71.77,175.95 L71.92,177.23 L72.07,178.47 L72.22,179.69 L72.37,180.89 L72.51,182.08 L72.66,183.26 L72.81,184.44 L72.95,185.62 L73.09,186.82 L73.24,188.04 L73.39,189.28 L73.53,190.52 L73.68,191.74 L73.82,192.94 L73.96,194.10 L74.10,195.20 L74.23,196.24 L74.36,197.20 L74.48,198.07 L74.60,198.82 L74.71,199.46 L74.81,199.98 L74.90,200.40 L74.99,200.74 L75.08,201.01 L75.16,201.23 L75.24,201.41 L75.32,201.59 L75.40,201.76 L75.48,201.95 L75.56,202.18 L75.65,202.46 L75.74,202.79 L75.82,203.17 L75.90,203.57 L75.98,203.99 L76.06,204.41 L76.15,204.81 L76.23,205.20 L76.32,205.54 L76.41,205.84 L76.50,206.06 L76.60,206.22 L76.70,206.28 L76.81,206.25 L76.92,206.14 L77.04,205.97 L77.16,205.73 L77.29,205.44 L77.42,205.11 L77.55,204.75 L77.68,204.36 L77.81,203.96 L77.94,203.55 L78.07,203.14 L78.20,202.74 L78.33,202.34 L78.46,201.91 L78.58,201.47 L78.71,201.00 L78.84,200.52 L78.97,200.02 L79.10,199.51 L79.23,199.00 L79.37,198.48 L79.51,197.96 L79.65,197.44 L79.80,196.92 L79.95,196.40 L80.10,195.86 L80.24,195.31 L80.39,194.75 L80.54,194.18 L80.70,193.62 L80.86,193.05 L81.03,192.49 L81.21,191.95 L81.39,191.41 L81.59,190.89 L81.80,190.39 L82.03,189.91 L82.27,189.44 L82.52,188.98 L82.79,188.53 L83.06,188.08 L83.34,187.65 L83.62,187.22 L83.90,186.81 L84.19,186.41 L84.46,186.01 L84.74,185.63 L85.00,185.25 L85.25,184.89 L85.50,184.56 L85.74,184.24 L85.98,183.93 L86.21,183.64 L86.45,183.35 L86.69,183.06 L86.93,182.77 L87.18,182.48 L87.44,182.17 L87.72,181.84 L88.00,181.50 L88.30,181.14 L88.61,180.78 L88.93,180.41 L89.26,180.04 L89.60,179.65 L89.94,179.26 L90.28,178.86 L90.63,178.46 L90.98,178.05 L91.32,177.62 L91.66,177.19 L92.00,176.75 L92.50,175.99 L93.00,175.23 L93.50,174.46 L94.00,173.69 L94.50,172.94 L95.00,172.22 L95.50,171.54 L96.00,170.89 L96.50,170.28 L97.00,169.70 L97.50,169.17 L98.00,168.70 L98.50,168.27 L99.00,167.89 L99.50,167.57 L100.00,167.30 L100.50,167.07 L101.00,166.88 L101.50,166.73 L102.00,166.60 L102.50,166.49 L103.00,166.40 L103.50,166.33 L104.00,166.28 L104.50,166.26 L105.00,166.25 L105.50,166.27 L106.00,166.32 L106.50,166.39 L107.00,166.50 L107.50,166.65 L108.00,166.83 L108.50,167.06 L109.00,167.32 L109.50,167.61 L110.00,167.94 L110.50,168.28 L111.00,168.64 L111.50,169.01 L112.00,169.36 L112.50,169.71 L113.00,170.05 L113.50,170.37 L114.00,170.66 L114.50,170.94 L115.00,171.21 L115.50,171.45 L116.00,171.69 L116.50,171.92 L117.00,172.15 L117.50,172.37 L118.00,172.58 L118.50,172.80 L119.00,173.01 L119.50,173.21 L120.00,173.41 L120.50,173.60 L121.00,173.79 L121.50,173.97 L122.00,174.15 L122.50,174.32 L123.00,174.48 L123.50,174.63 L124.00,174.77 L124.50,174.89 L125.00,175.01 L125.50,175.12 L126.00,175.21 L126.50,175.28 L127.00,175.34 L127.50,175.39 L128.00,175.41 L128.50,175.42 L129.00,175.41 L129.50,175.39 L130.00,175.35 L130.50,175.29 L131.00,175.22 L131.50,175.13 L132.00,175.03 L132.50,174.92 L133.00,174.79 L133.50,174.65 L134.00,174.50 L134.50,174.34 L135.00,174.17 L135.50,173.99 L136.00,173.79 L136.50,173.59 L137.00,173.38 L137.50,173.16 L138.00,172.94 L138.50,172.70 L139.00,172.45 L139.50,172.18 L140.00,171.90 L140.50,171.59 L141.00,171.26 L141.50,170.90 L142.00,170.52 L142.50,170.10 L143.00,169.67 L143.50,169.22 L144.00,168.76 L144.50,168.30 L145.00,167.84 L145.50,167.40 L146.00,166.97 L146.50,166.56 L147.00,166.18 L147.50,165.82 L148.00,165.49 L148.50,165.18 L149.00,164.89 L149.50,164.63 L150.00,164.39 L150.50,164.17 L151.00,163.96 L151.50,163.77 L152.00,163.59 L152.50,163.42 L153.00,163.26 L153.50,163.11 L154.00,162.96 L154.50,162.82 L155.00,162.69 L155.50,162.56 L156.00,162.43 L156.50,162.30 L157.00,162.18 L157.50,162.06 L158.00,161.95 L158.50,161.83 L159.00,161.72 L159.50,161.60 L160.00,161.49 L160.50,161.37 L161.00,161.26 L161.50,161.15 L162.00,161.03 L162.50,160.92 L163.00,160.80 L163.50,160.68 L164.00,160.56 L164.50,160.44 L165.00,160.31 L165.50,160.19 L166.00,160.06 L166.50,159.92 L167.00,159.79 L167.50,159.65 L168.00,159.50 L168.50,159.35 L169.00,159.20 L169.50,159.04 L170.00,158.87 L170.50,158.70 L171.00,158.53 L171.50,158.35 L172.00,158.16 L172.50,157.98 L173.00,157.79 L173.50,157.59 L174.00,157.39 L174.50,157.19 L175.00,156.99 L175.50,156.79 L176.00,156.58 L176.50,156.37 L177.00,156.16 L177.50,155.95 L178.00,155.73 L178.50,155.52 L179.00,155.30 L179.50,155.09 L180.00,154.87 L180.50,154.65 L181.00,154.44 L181.50,154.22 L182.00,154.00 L182.50,153.79 L183.00,153.57 L183.50,153.36 L184.00,153.14 L184.50,152.93 L185.00,152.72 L185.50,152.51 L186.00,152.31 L186.50,152.11 L187.00,151.91 L187.50,151.71 L188.00,151.52 L188.50,151.34 L189.00,151.16 L189.50,150.98 L190.00,150.81 L190.50,150.64 L191.00,150.48 L191.50,150.32 L192.00,150.16 L192.50,150.01 L193.00,149.86 L193.50,149.72 L194.00,149.60 L194.50,149.48 L195.00,149.38 L195.50,149.30 L196.00,149.24 L196.50,149.20 L197.00,149.18 L197.50,149.17 L198.00,149.19 L198.50,149.22 L199.00,149.27 L199.50,149.33 L200.00,149.40 L200.50,149.48 L201.00,149.57 L201.50,149.67 L202.00,149.79 L202.50,149.91 L203.00,150.03 L203.50,150.17 L204.00,150.31 L204.50,150.46 L205.00,150.62 L205.50,150.78 L206.00,150.95 L206.50,151.12 L207.00,151.30 L207.50,151.48 L208.00,151.66 L208.50,151.85 L209.00,152.05 L209.50,152.24 L210.00,152.44 L210.50,152.65 L211.00,152.85 L211.50,153.06 L212.00,153.27 L212.50,153.49 L213.00,153.71 L213.50,153.93 L214.00,154.16 L214.50,154.39 L215.00,154.62 L215.50,154.86 L216.00,155.10 L216.50,155.35 L217.00,155.61 L217.50,155.87 L218.00,156.14 L218.50,156.41 L219.00,156.68 L219.50,156.96 L220.00,157.24 L220.50,157.53 L221.00,157.82 L221.50,158.11 L222.00,158.40 L222.50,158.69 L223.00,158.98 L223.50,159.28 L224.00,159.57 L224.50,159.87 L225.00,160.16 L225.50,160.46 L226.00,160.75 L226.50,161.04 L227.00,161.32 L227.50,161.61 L228.00,161.89 L228.50,162.16 L229.00,162.43 L229.50,162.70 L230.00,162.96 L230.50,163.21 L231.00,163.45 L231.50,163.69 L232.00,163.93 L232.50,164.16 L233.00,164.38 L233.50,164.60 L234.00,164.81 L234.50,165.02 L235.00,165.23 L235.50,165.43 L236.00,165.63 L236.50,165.84 L237.00,166.04 L237.50,166.24 L238.00,166.45 L238.50,166.66 L239.00,166.87 L239.50,167.09 L240.00,167.31 L240.50,167.53 L241.00,167.75 L241.50,167.97 L242.00,168.19 L242.50,168.41 L243.00,168.63 L243.50,168.86 L244.00,169.09 L244.50,169.32 L245.00,169.57 L245.50,169.82 L246.00,170.07 L246.50,170.34 L247.00,170.62 L247.50,170.92 L248.00,171.22 L248.50,171.54 L249.00,171.87 L249.50,172.22 L250.00,172.58 L250.50,172.96 L251.00,173.35 L251.50,173.75 L252.00,174.16 L252.50,174.58 L253.00,175.00 L253.50,175.43 L254.00,175.86 L254.50,176.29 L255.00,176.72 L255.50,177.15 L256.00,177.57 L256.50,177.98 L257.00,178.39 L257.50,178.79 L258.00,179.19 L258.50,179.57 L259.00,179.94 L259.50,180.30 L260.00,180.66 L260.50,181.00 L261.00,181.34 L261.50,181.67 L262.00,182.00 L262.50,182.32 L263.00,182.64 L263.50,182.95 L264.00,183.26 L264.50,183.56 L265.00,183.87 L265.50,184.17 L266.00,184.46 L266.50,184.75 L267.00,185.04 L267.50,185.33 L268.00,185.62 L268.50,185.90 L269.00,186.18 L269.50,186.45 L270.00,186.72 L270.50,186.99 L271.00,187.26 L271.50,187.52 L272.00,187.78 L272.50,188.04 L273.00,188.29 L273.50,188.54 L274.00,188.78 L274.50,189.02 L275.00,189.26 L275.50,189.49 L276.00,189.72 L276.50,189.95 L277.00,190.17 L277.50,190.38 L278.00,190.59 L278.50,190.80 L279.00,191.00 L279.50,191.19 L280.00,191.38 L280.50,191.56 L281.00,191.74 L281.50,191.91 L282.00,192.07 L282.50,192.23 L283.00,192.38 L283.50,192.52 L284.00,192.66 L284.50,192.80 L285.00,192.92 L285.50,193.04 L286.00,193.16 L286.50,193.26 L287.00,193.36 L287.50,193.45 L288.00,193.54 L288.50,193.62 L289.00,193.69 L289.50,193.76 L290.00,193.82 L290.50,193.88 L291.00,193.93 L291.50,193.98 L292.00,194.03 L292.50,194.07 L293.00,194.11 L293.50,194.15 L294.00,194.19 L294.50,194.23 L295.00,194.27 L295.50,194.30 L296.00,194.34 L296.50,194.38 L297.00,194.42 L297.50,194.46 L298.00,194.50 L298.50,194.54 L299.00,194.58 L299.50,194.62 L300.00,194.66 L300.50,194.70 L301.00,194.73 L301.50,194.77 L302.00,194.80 L302.50,194.84 L303.00,194.87 L303.50,194.90 L304.00,194.93 L304.50,194.96 L305.00,194.99 L305.50,195.02 L306.00,195.06 L306.50,195.09 L307.00,195.12 L307.50,195.15 L308.00,195.18 L308.50,195.21 L309.00,195.24 L309.50,195.28 L310.00,195.31 L310.50,195.34 L311.00,195.38 L311.50,195.41 L312.00,195.44 L312.50,195.47 L313.00,195.50 L313.50,195.52 L314.00,195.55 L314.50,195.57 L315.00,195.59 L315.50,195.62 L316.00,195.64 L316.50,195.66 L317.00,195.69 L317.50,195.71 L318.00,195.74 L318.50,195.77 L319.00,195.80 L319.50,195.83 L320.00,195.87 L320.50,195.92 L321.00,195.96 L321.50,196.02 L322.00,196.07 L322.50,196.14 L323.00,196.20 L323.50,196.28 L324.00,196.36 L324.50,196.44 L325.00,196.53 L325.50,196.63 L326.00,196.73 L326.50,196.84 L327.00,196.95 L327.50,197.07 L328.00,197.19 L328.50,197.32 L329.00,197.45 L329.50,197.58 L330.00,197.72 L330.50,197.85 L331.00,197.99 L331.50,198.14 L332.00,198.28 L332.50,198.42 L333.00,198.57 L333.50,198.72 L334.00,198.87 L334.50,199.02 L335.00,199.17 L335.50,199.32 L336.00,199.47 L336.50,199.63 L337.00,199.78 L337.50,199.93 L338.00,200.08 L338.50,200.23 L339.00,200.38 L339.50,200.51 L340.00,200.63 L340.50,200.74 L341.00,200.82" fill="none" stroke="#008000" stroke-width="1.2" stroke-linejoin="round"/>
<path d="M60.66,6.33 L60.74,8.97 L60.83,12.34 L60.94,16.31 L61.05,20.77 L61.18,25.61 L61.33,30.71 L61.48,35.94 L61.64,41.19 L61.81,46.35 L61.98,51.30 L62.17,55.92 L62.36,60.10 L62.57,63.95 L62.80,67.69 L63.04,71.32 L63.31,74.86 L63.57,78.29 L63.85,81.64 L64.12,84.91 L64.39,88.10 L64.65,91.22 L64.89,94.27 L65.12,97.27 L65.32,100.22 L65.50,103.11 L65.66,105.93 L65.80,108.68 L65.93,111.36 L66.04,113.97 L66.16,116.51 L66.27,118.98 L66.37,121.38 L66.49,123.71 L66.61,125.97 L66.74,128.16 L66.88,130.29 L67.03,132.31 L67.20,134.21 L67.36,136.01 L67.53,137.72 L67.71,139.36 L67.89,140.95 L68.07,142.51 L68.25,144.05 L68.42,145.59 L68.60,147.14 L68.77,148.73 L68.94,150.37 L69.11,152.06 L69.27,153.78 L69.43,155.51 L69.59,157.25 L69.76,158.99 L69.92,160.72 L70.08,162.44 L70.23,164.13 L70.39,165.78 L70.55,167.39 L70.70,168.95 L70.86,170.45 L71.01,171.89 L71.17,173.28 L71.32,174.63 L71.47,175.93 L71.62,177.20 L71.77,178.45 L71.92,179.66 L72.07,180.86 L72.22,182.05 L72.36,183.23 L72.51,184.40 L72.66,185.58 L72.81,186.78 L72.96,188.00 L73.11,189.23 L73.27,190.46 L73.42,191.67 L73.57,192.87 L73.72,194.02 L73.87,195.12 L74.01,196.16 L74.15,197.13 L74.28,198.02 L74.40,198.80 L74.52,199.47 L74.62,200.04 L74.73,200.52 L74.82,200.92 L74.92,201.26 L75.01,201.55 L75.10,201.81 L75.18,202.05 L75.27,202.29 L75.36,202.55 L75.45,202.82 L75.54,203.14 L75.63,203.51 L75.73,203.91 L75.82,204.32 L75.91,204.75 L76.00,205.18 L76.09,205.59 L76.18,205.97 L76.27,206.32 L76.37,206.61 L76.47,206.85 L76.57,207.00 L76.68,207.08 L76.79,207.06 L76.91,206.97 L77.03,206.81 L77.16,206.59 L77.28,206.32 L77.41,206.01 L77.54,205.67 L77.67,205.30 L77.81,204.92 L77.94,204.52 L78.07,204.13 L78.20,203.74 L78.33,203.35 L78.46,202.94 L78.59,202.50 L78.71,202.03 L78.84,201.56 L78.97,201.07 L79.10,200.57 L79.23,200.06 L79.37,199.55 L79.51,199.04 L79.65,198.53 L79.80,198.02 L79.95,197.51 L80.10,196.99 L80.24,196.46 L80.39,195.93 L80.54,195.38 L80.70,194.84 L80.86,194.30 L81.03,193.77 L81.21,193.24 L81.39,192.73 L81.59,192.23 L81.80,191.74 L82.03,191.28 L82.27,190.82 L82.52,190.37 L82.79,189.93 L83.06,189.49 L83.34,189.07 L83.62,188.65 L83.90,188.24 L84.19,187.84 L84.46,187.45 L84.74,187.07 L85.00,186.70 L85.25,186.34 L85.50,186.01 L85.74,185.69 L85.98,185.38 L86.21,185.08 L86.45,184.79 L86.69,184.50 L86.93,184.20 L87.18,183.90 L87.44,183.58 L87.72,183.25 L88.00,182.90 L88.30,182.53 L88.61,182.16 L88.93,181.78 L89.26,181.39 L89.60,180.99 L89.94,180.59 L90.28,180.18 L90.63,179.76 L90.98,179.33 L91.32,178.89 L91.66,178.45 L92.00,178.00 L92.50,177.22 L93.00,176.44 L93.50,175.64 L94.00,174.86 L94.50,174.11 L95.00,173.41 L95.50,172.77 L96.00,172.19 L96.50,171.68 L97.00,171.22 L97.50,170.81 L98.00,170.46 L98.50,170.13 L99.00,169.84 L99.50,169.58 L100.00,169.35 L100.50,169.14 L101.00,168.94 L101.50,168.75 L102.00,168.57 L102.50,168.40 L103.00,168.25 L103.50,168.11 L104.00,168.00 L104.50,167.91 L105.00,167.84 L105.50,167.82 L106.00,167.83 L106.50,167.88 L107.00,167.99 L107.50,168.15 L108.00,168.37 L108.50,168.65 L109.00,168.98 L109.50,169.37 L110.00,169.80 L110.50,170.25 L111.00,170.73 L111.50,171.21 L112.00,171.68 L112.50,172.14 L113.00,172.58 L113.50,173.00 L114.00,173.38 L114.50,173.73 L115.00,174.06 L115.50,174.37 L116.00,174.66 L116.50,174.93 L117.00,175.20 L117.50,175.45 L118.00,175.70 L118.50,175.94 L119.00,176.18 L119.50,176.41 L120.00,176.63 L120.50,176.85 L121.00,177.06 L121.50,177.26 L122.00,177.46 L122.50,177.65 L123.00,177.83 L123.50,178.00 L124.00,178.16 L124.50,178.31 L125.00,178.45 L125.50,178.58 L126.00,178.70 L126.50,178.80 L127.00,178.89 L127.50,178.96 L128.00,179.02 L128.50,179.06 L129.00,179.08 L129.50,179.09 L130.00,179.09 L130.50,179.07 L131.00,179.03 L131.50,178.98 L132.00,178.92 L132.50,178.84 L133.00,178.76 L133.50,178.66 L134.00,178.55 L134.50,178.43 L135.00,178.30 L135.50,178.16 L136.00,178.01 L136.50,177.85 L137.00,177.69 L137.50,177.52 L138.00,177.34 L138.50,177.15 L139.00,176.95 L139.50,176.74 L140.00,176.52 L140.50,176.28 L141.00,176.02 L141.50,175.74 L142.00,175.44 L142.50,175.11 L143.00,174.77 L143.50,174.41 L144.00,174.05 L144.50,173.68 L145.00,173.31 L145.50,172.94 L146.00,172.59 L146.50,172.25 L147.00,171.93 L147.50,171.63 L148.00,171.34 L148.50,171.07 L149.00,170.82 L149.50,170.59 L150.00,170.36 L150.50,170.16 L151.00,169.96 L151.50,169.77 L152.00,169.59 L152.50,169.42 L153.00,169.25 L153.50,169.09 L154.00,168.94 L154.50,168.78 L155.00,168.63 L155.50,168.49 L156.00,168.34 L156.50,168.20 L157.00,168.06 L157.50,167.92 L158.00,167.78 L158.50,167.65 L159.00,167.51 L159.50,167.38 L160.00,167.24 L160.50,167.11 L161.00,166.98 L161.50,166.84 L162.00,166.71 L162.50,166.57 L163.00,166.44 L163.50,166.30 L164.00,166.16 L164.50,166.03 L165.00,165.89 L165.50,165.75 L166.00,165.60 L166.50,165.46 L167.00,165.31 L167.50,165.16 L168.00,165.01 L168.50,164.86 L169.00,164.70 L169.50,164.54 L170.00,164.38 L170.50,164.22 L171.00,164.05 L171.50,163.88 L172.00,163.70 L172.50,163.53 L173.00,163.35 L173.50,163.17 L174.00,162.98 L174.50,162.80 L175.00,162.61 L175.50,162.43 L176.00,162.24 L176.50,162.05 L177.00,161.86 L177.50,161.67 L178.00,161.48 L178.50,161.28 L179.00,161.09 L179.50,160.90 L180.00,160.71 L180.50,160.51 L181.00,160.32 L181.50,160.13 L182.00,159.94 L182.50,159.75 L183.00,159.56 L183.50,159.37 L184.00,159.18 L184.50,159.00 L185.00,158.82 L185.50,158.64 L186.00,158.46 L186.50,158.29 L187.00,158.12 L187.50,157.95 L188.00,157.79 L188.50,157.63 L189.00,157.48 L189.50,157.33 L190.00,157.19 L190.50,157.05 L191.00,156.92 L191.50,156.79 L192.00,156.67 L192.50,156.55 L193.00,156.45 L193.50,156.35 L194.00,156.26 L194.50,156.19 L195.00,156.14 L195.50,156.10 L196.00,156.07 L196.50,156.06 L197.00,156.07 L197.50,156.10 L198.00,156.13 L198.50,156.18 L199.00,156.24 L199.50,156.31 L200.00,156.38 L200.50,156.46 L201.00,156.55 L201.50,156.65 L202.00,156.75 L202.50,156.86 L203.00,156.98 L203.50,157.10 L204.00,157.22 L204.50,157.36 L205.00,157.49 L205.50,157.63 L206.00,157.78 L206.50,157.93 L207.00,158.09 L207.50,158.24 L208.00,158.41 L208.50,158.57 L209.00,158.74 L209.50,158.91 L210.00,159.08 L210.50,159.26 L211.00,159.44 L211.50,159.63 L212.00,159.81 L212.50,160.00 L213.00,160.20 L213.50,160.39 L214.00,160.59 L214.50,160.79 L215.00,161.00 L215.50,161.21 L216.00,161.43 L216.50,161.65 L217.00,161.88 L217.50,162.11 L218.00,162.35 L218.50,162.59 L219.00,162.83 L219.50,163.08 L220.00,163.33 L220.50,163.58 L221.00,163.84 L221.50,164.09 L222.00,164.35 L222.50,164.61 L223.00,164.87 L223.50,165.14 L224.00,165.40 L224.50,165.66 L225.00,165.93 L225.50,166.19 L226.00,166.45 L226.50,166.71 L227.00,166.97 L227.50,167.23 L228.00,167.48 L228.50,167.74 L229.00,167.98 L229.50,168.23 L230.00,168.47 L230.50,168.71 L231.00,168.94 L231.50,169.17 L232.00,169.40 L232.50,169.63 L233.00,169.85 L233.50,170.07 L234.00,170.29 L234.50,170.51 L235.00,170.73 L235.50,170.94 L236.00,171.15 L236.50,171.36 L237.00,171.57 L237.50,171.77 L238.00,171.98 L238.50,172.18 L239.00,172.38 L239.50,172.58 L240.00,172.78 L240.50,172.97 L241.00,173.15 L241.50,173.33 L242.00,173.50 L242.50,173.68 L243.00,173.84 L243.50,174.01 L244.00,174.18 L244.50,174.35 L245.00,174.53 L245.50,174.71 L246.00,174.91 L246.50,175.12 L247.00,175.34 L247.50,175.58 L248.00,175.83 L248.50,176.10 L249.00,176.39 L249.50,176.70 L250.00,177.03 L250.50,177.37 L251.00,177.72 L251.50,178.10 L252.00,178.48 L252.50,178.87 L253.00,179.27 L253.50,179.68 L254.00,180.08 L254.50,180.49 L255.00,180.90 L255.50,181.30 L256.00,181.70 L256.50,182.09 L257.00,182.47 L257.50,182.84 L258.00,183.21 L258.50,183.56 L259.00,183.90 L259.50,184.23 L260.00,184.55 L260.50,184.86 L261.00,185.16 L261.50,185.45 L262.00,185.73 L262.50,186.01 L263.00,186.28 L263.50,186.55 L264.00,186.81 L264.50,187.07 L265.00,187.33 L265.50,187.58 L266.00,187.83 L266.50,188.07 L267.00,188.32 L267.50,188.56 L268.00,188.80 L268.50,189.03 L269.00,189.26 L269.50,189.50 L270.00,189.72 L270.50,189.95 L271.00,190.18 L271.50,190.40 L272.00,190.62 L272.50,190.84 L273.00,191.06 L273.50,191.28 L274.00,191.50 L274.50,191.71 L275.00,191.93 L275.50,192.14 L276.00,192.35 L276.50,192.56 L277.00,192.77 L277.50,192.97 L278.00,193.18 L278.50,193.38 L279.00,193.57 L279.50,193.76 L280.00,193.95 L280.50,194.13 L281.00,194.30 L281.50,194.47 L282.00,194.63 L282.50,194.78 L283.00,194.93 L283.50,195.07 L284.00,195.20 L284.50,195.32 L285.00,195.43 L285.50,195.54 L286.00,195.63 L286.50,195.72 L287.00,195.79 L287.50,195.86 L288.00,195.92 L288.50,195.97 L289.00,196.02 L289.50,196.06 L290.00,196.09 L290.50,196.12 L291.00,196.14 L291.50,196.16 L292.00,196.18 L292.50,196.19 L293.00,196.20 L293.50,196.21 L294.00,196.22 L294.50,196.22 L295.00,196.23 L295.50,196.24 L296.00,196.25 L296.50,196.26 L297.00,196.28 L297.50,196.29 L298.00,196.30 L298.50,196.32 L299.00,196.34 L299.50,196.35 L300.00,196.37 L300.50,196.39 L301.00,196.40 L301.50,196.42 L302.00,196.43 L302.50,196.44 L303.00,196.46 L303.50,196.47 L304.00,196.48 L304.50,196.49 L305.00,196.50 L305.50,196.52 L306.00,196.53 L306.50,196.54 L307.00,196.56 L307.50,196.57 L308.00,196.58 L308.50,196.60 L309.00,196.62 L309.50,196.63 L310.00,196.65 L310.50,196.67 L311.00,196.69 L311.50,196.70 L312.00,196.72 L312.50,196.74 L313.00,196.75 L313.50,196.77 L314.00,196.78 L314.50,196.79 L315.00,196.80 L315.50,196.82 L316.00,196.83 L316.50,196.84 L317.00,196.85 L317.50,196.87 L318.00,196.89 L318.50,196.91 L319.00,196.93 L319.50,196.96 L320.00,196.99 L320.50,197.02 L321.00,197.06 L321.50,197.10 L322.00,197.14 L322.50,197.19 L323.00,197.25 L323.50,197.31 L324.00,197.38 L324.50,197.45 L325.00,197.53 L325.50,197.61 L326.00,197.70 L326.50,197.80 L327.00,197.90 L327.50,198.00 L328.00,198.11 L328.50,198.22 L329.00,198.33 L329.50,198.45 L330.00,198.57 L330.50,198.69 L331.00,198.82 L331.50,198.94 L332.00,199.07 L332.50,199.20 L333.00,199.33 L333.50,199.46 L334.00,199.59 L334.50,199.73 L335.00,199.86 L335.50,200.00 L336.00,200.14 L336.50,200.27 L337.00,200.41 L337.50,200.55 L338.00,200.68 L338.50,200.82 L339.00,200.94 L339.50,201.06 L340.00,201.17 L340.50,201.27 L341.00,201.34" fill="none" stroke="#000080" stroke-width="1.2" stroke-linejoin="round"/>
<path d="M60.48,6.32 L60.54,8.96 L60.61,12.33 L60.69,16.30 L60.78,20.76 L60.88,25.60 L60.99,30.69 L61.11,35.92 L61.24,41.18 L61.39,46.34 L61.54,51.29 L61.70,55.90 L61.88,60.08 L62.08,63.93 L62.30,67.67 L62.55,71.30 L62.81,74.84 L63.08,78.27 L63.36,81.62 L63.64,84.89 L63.91,88.08 L64.18,91.20 L64.43,94.26 L64.66,97.25 L64.86,100.20 L65.04,103.09 L65.20,105.91 L65.34,108.66 L65.48,111.34 L65.60,113.95 L65.71,116.49 L65.82,118.96 L65.94,121.36 L66.05,123.69 L66.17,125.95 L66.30,128.14 L66.44,130.27 L66.59,132.29 L66.75,134.19 L66.91,135.99 L67.07,137.70 L67.24,139.34 L67.41,140.93 L67.58,142.49 L67.75,144.03 L67.92,145.56 L68.09,147.12 L68.26,148.71 L68.42,150.35 L68.58,152.04 L68.74,153.76 L68.89,155.49 L69.05,157.23 L69.21,158.97 L69.36,160.70 L69.52,162.42 L69.67,164.11 L69.82,165.76 L69.97,167.37 L70.13,168.93 L70.28,170.43 L70.43,171.87 L70.58,173.25 L70.73,174.59 L70.88,175.89 L71.03,177.16 L71.18,178.40 L71.32,179.61 L71.47,180.80 L71.62,181.99 L71.77,183.16 L71.93,184.33 L72.08,185.51 L72.24,186.70 L72.40,187.91 L72.57,189.12 L72.73,190.34 L72.90,191.54 L73.07,192.71 L73.24,193.86 L73.40,194.96 L73.56,196.01 L73.71,197.00 L73.86,197.91 L74.00,198.75 L74.13,199.50 L74.25,200.17 L74.37,200.76 L74.48,201.30 L74.59,201.78 L74.70,202.23 L74.80,202.63 L74.90,203.02 L75.00,203.39 L75.11,203.76 L75.21,204.13 L75.32,204.51 L75.43,204.92 L75.54,205.33 L75.64,205.74 L75.75,206.15 L75.86,206.54 L75.96,206.91 L76.07,207.25 L76.18,207.56 L76.29,207.82 L76.41,208.03 L76.52,208.18 L76.64,208.27 L76.76,208.29 L76.89,208.25 L77.01,208.15 L77.14,208.01 L77.27,207.82 L77.40,207.59 L77.54,207.33 L77.67,207.04 L77.80,206.73 L77.93,206.41 L78.07,206.08 L78.20,205.74 L78.33,205.39 L78.46,205.00 L78.59,204.58 L78.72,204.14 L78.84,203.67 L78.97,203.19 L79.10,202.69 L79.24,202.19 L79.37,201.69 L79.51,201.19 L79.65,200.70 L79.80,200.22 L79.95,199.75 L80.10,199.26 L80.24,198.77 L80.39,198.28 L80.54,197.79 L80.70,197.29 L80.86,196.80 L81.03,196.31 L81.21,195.83 L81.39,195.36 L81.59,194.89 L81.80,194.44 L82.03,194.01 L82.27,193.57 L82.52,193.15 L82.79,192.73 L83.06,192.31 L83.34,191.90 L83.62,191.50 L83.90,191.11 L84.19,190.72 L84.46,190.34 L84.74,189.97 L85.00,189.60 L85.25,189.25 L85.50,188.91 L85.74,188.59 L85.98,188.28 L86.21,187.97 L86.45,187.67 L86.69,187.37 L86.93,187.06 L87.18,186.74 L87.44,186.41 L87.72,186.07 L88.00,185.70 L88.30,185.32 L88.61,184.92 L88.93,184.51 L89.26,184.10 L89.60,183.67 L89.94,183.24 L90.28,182.80 L90.63,182.35 L90.98,181.89 L91.32,181.43 L91.66,180.97 L92.00,180.50 L92.50,179.68 L93.00,178.85 L93.50,178.01 L94.00,177.20 L94.50,176.44 L95.00,175.77 L95.50,175.21 L96.00,174.76 L96.50,174.43 L97.00,174.20 L97.50,174.03 L98.00,173.91 L98.50,173.81 L99.00,173.73 L99.50,173.66 L100.00,173.58 L100.50,173.50 L101.00,173.40 L101.50,173.29 L102.00,173.17 L102.50,173.05 L103.00,172.93 L103.50,172.83 L104.00,172.74 L104.50,172.68 L105.00,172.65 L105.50,172.66 L106.00,172.71 L106.50,172.82 L107.00,172.99 L107.50,173.23 L108.00,173.55 L108.50,173.94 L109.00,174.40 L109.50,174.92 L110.00,175.49 L110.50,176.08 L111.00,176.69 L111.50,177.30 L112.00,177.89 L112.50,178.44 L113.00,178.96 L113.50,179.44 L114.00,179.87 L114.50,180.27 L115.00,180.63 L115.50,180.96 L116.00,181.27 L116.50,181.56 L117.00,181.83 L117.50,182.10 L118.00,182.35 L118.50,182.59 L119.00,182.83 L119.50,183.06 L120.00,183.29 L120.50,183.51 L121.00,183.73 L121.50,183.94 L122.00,184.15 L122.50,184.36 L123.00,184.56 L123.50,184.75 L124.00,184.95 L124.50,185.13 L125.00,185.32 L125.50,185.50 L126.00,185.67 L126.50,185.84 L127.00,186.00 L127.50,186.16 L128.00,186.31 L128.50,186.45 L129.00,186.59 L129.50,186.72 L130.00,186.83 L130.50,186.94 L131.00,187.03 L131.50,187.10 L132.00,187.16 L132.50,187.19 L133.00,187.21 L133.50,187.21 L134.00,187.18 L134.50,187.12 L135.00,187.04 L135.50,186.94 L136.00,186.81 L136.50,186.66 L137.00,186.50 L137.50,186.31 L138.00,186.12 L138.50,185.91 L139.00,185.70 L139.50,185.47 L140.00,185.23 L140.50,184.97 L141.00,184.70 L141.50,184.40 L142.00,184.09 L142.50,183.76 L143.00,183.41 L143.50,183.06 L144.00,182.71 L144.50,182.36 L145.00,182.02 L145.50,181.69 L146.00,181.37 L146.50,181.08 L147.00,180.80 L147.50,180.55 L148.00,180.32 L148.50,180.11 L149.00,179.92 L149.50,179.75 L150.00,179.59 L150.50,179.45 L151.00,179.32 L151.50,179.20 L152.00,179.09 L152.50,178.99 L153.00,178.90 L153.50,178.81 L154.00,178.73 L154.50,178.65 L155.00,178.58 L155.50,178.51 L156.00,178.44 L156.50,178.38 L157.00,178.32 L157.50,178.26 L158.00,178.20 L158.50,178.14 L159.00,178.09 L159.50,178.04 L160.00,177.99 L160.50,177.94 L161.00,177.89 L161.50,177.84 L162.00,177.79 L162.50,177.75 L163.00,177.70 L163.50,177.66 L164.00,177.62 L164.50,177.57 L165.00,177.53 L165.50,177.49 L166.00,177.45 L166.50,177.40 L167.00,177.36 L167.50,177.32 L168.00,177.28 L168.50,177.24 L169.00,177.20 L169.50,177.16 L170.00,177.12 L170.50,177.09 L171.00,177.07 L171.50,177.05 L172.00,177.05 L172.50,177.05 L173.00,177.06 L173.50,177.08 L174.00,177.10 L174.50,177.12 L175.00,177.13 L175.50,177.13 L176.00,177.12 L176.50,177.09 L177.00,177.03 L177.50,176.95 L178.00,176.85 L178.50,176.73 L179.00,176.59 L179.50,176.44 L180.00,176.26 L180.50,176.07 L181.00,175.87 L181.50,175.66 L182.00,175.44 L182.50,175.22 L183.00,174.98 L183.50,174.74 L184.00,174.50 L184.50,174.25 L185.00,174.00 L185.50,173.75 L186.00,173.50 L186.50,173.24 L187.00,172.99 L187.50,172.73 L188.00,172.48 L188.50,172.22 L189.00,171.97 L189.50,171.72 L190.00,171.47 L190.50,171.22 L191.00,170.99 L191.50,170.75 L192.00,170.53 L192.50,170.31 L193.00,170.10 L193.50,169.91 L194.00,169.72 L194.50,169.55 L195.00,169.40 L195.50,169.27 L196.00,169.16 L196.50,169.09 L197.00,169.05 L197.50,169.05 L198.00,169.07 L198.50,169.12 L199.00,169.19 L199.50,169.28 L200.00,169.38 L200.50,169.48 L201.00,169.59 L201.50,169.71 L202.00,169.84 L202.50,169.97 L203.00,170.10 L203.50,170.24 L204.00,170.39 L204.50,170.53 L205.00,170.68 L205.50,170.83 L206.00,170.99 L206.50,171.14 L207.00,171.29 L207.50,171.45 L208.00,171.61 L208.50,171.76 L209.00,171.92 L209.50,172.08 L210.00,172.24 L210.50,172.39 L211.00,172.55 L211.50,172.70 L212.00,172.85 L212.50,173.00 L213.00,173.15 L213.50,173.30 L214.00,173.44 L214.50,173.58 L215.00,173.72 L215.50,173.85 L216.00,173.98 L216.50,174.10 L217.00,174.23 L217.50,174.35 L218.00,174.46 L218.50,174.58 L219.00,174.69 L219.50,174.81 L220.00,174.92 L220.50,175.03 L221.00,175.14 L221.50,175.26 L222.00,175.38 L222.50,175.50 L223.00,175.62 L223.50,175.75 L224.00,175.88 L224.50,176.01 L225.00,176.16 L225.50,176.31 L226.00,176.46 L226.50,176.63 L227.00,176.80 L227.50,176.98 L228.00,177.17 L228.50,177.37 L229.00,177.58 L229.50,177.80 L230.00,178.02 L230.50,178.25 L231.00,178.49 L231.50,178.74 L232.00,178.99 L232.50,179.24 L233.00,179.49 L233.50,179.75 L234.00,180.01 L234.50,180.27 L235.00,180.53 L235.50,180.79 L236.00,181.04 L236.50,181.29 L237.00,181.54 L237.50,181.78 L238.00,182.01 L238.50,182.23 L239.00,182.44 L239.50,182.64 L240.00,182.82 L240.50,182.99 L241.00,183.14 L241.50,183.28 L242.00,183.40 L242.50,183.50 L243.00,183.59 L243.50,183.68 L244.00,183.75 L244.50,183.83 L245.00,183.90 L245.50,183.98 L246.00,184.06 L246.50,184.16 L247.00,184.27 L247.50,184.40 L248.00,184.55 L248.50,184.71 L249.00,184.90 L249.50,185.10 L250.00,185.33 L250.50,185.57 L251.00,185.83 L251.50,186.10 L252.00,186.38 L252.50,186.67 L253.00,186.96 L253.50,187.26 L254.00,187.57 L254.50,187.88 L255.00,188.18 L255.50,188.49 L256.00,188.79 L256.50,189.08 L257.00,189.38 L257.50,189.66 L258.00,189.94 L258.50,190.21 L259.00,190.47 L259.50,190.72 L260.00,190.96 L260.50,191.20 L261.00,191.43 L261.50,191.65 L262.00,191.87 L262.50,192.09 L263.00,192.30 L263.50,192.51 L264.00,192.72 L264.50,192.92 L265.00,193.12 L265.50,193.32 L266.00,193.51 L266.50,193.71 L267.00,193.90 L267.50,194.09 L268.00,194.28 L268.50,194.46 L269.00,194.65 L269.50,194.83 L270.00,195.01 L270.50,195.19 L271.00,195.36 L271.50,195.54 L272.00,195.71 L272.50,195.89 L273.00,196.06 L273.50,196.23 L274.00,196.39 L274.50,196.56 L275.00,196.73 L275.50,196.89 L276.00,197.05 L276.50,197.21 L277.00,197.37 L277.50,197.53 L278.00,197.68 L278.50,197.83 L279.00,197.98 L279.50,198.12 L280.00,198.26 L280.50,198.40 L281.00,198.53 L281.50,198.65 L282.00,198.77 L282.50,198.89 L283.00,199.00 L283.50,199.10 L284.00,199.20 L284.50,199.29 L285.00,199.37 L285.50,199.45 L286.00,199.52 L286.50,199.58 L287.00,199.64 L287.50,199.69 L288.00,199.73 L288.50,199.77 L289.00,199.80 L289.50,199.83 L290.00,199.85 L290.50,199.87 L291.00,199.88 L291.50,199.89 L292.00,199.90 L292.50,199.91 L293.00,199.91 L293.50,199.92 L294.00,199.93 L294.50,199.93 L295.00,199.94 L295.50,199.94 L296.00,199.95 L296.50,199.96 L297.00,199.98 L297.50,199.99 L298.00,200.01 L298.50,200.03 L299.00,200.05 L299.50,200.07 L300.00,200.09 L300.50,200.11 L301.00,200.14 L301.50,200.16 L302.00,200.18 L302.50,200.21 L303.00,200.23 L303.50,200.25 L304.00,200.28 L304.50,200.30 L305.00,200.33 L305.50,200.35 L306.00,200.37 L306.50,200.40 L307.00,200.42 L307.50,200.44 L308.00,200.46 L308.50,200.48 L309.00,200.51 L309.50,200.53 L310.00,200.55 L310.50,200.57 L311.00,200.58 L311.50,200.60 L312.00,200.62 L312.50,200.63 L313.00,200.64 L313.50,200.65 L314.00,200.67 L314.50,200.67 L315.00,200.68 L315.50,200.69 L316.00,200.70 L316.50,200.71 L317.00,200.71 L317.50,200.72 L318.00,200.73 L318.50,200.74 L319.00,200.75 L319.50,200.76 L320.00,200.77 L320.50,200.79 L321.00,200.80 L321.50,200.82 L322.00,200.84 L322.50,200.86 L323.00,200.89 L323.50,200.92 L324.00,200.95 L324.50,200.98 L325.00,201.01 L325.50,201.05 L326.00,201.09 L326.50,201.14 L327.00,201.18 L327.50,201.23 L328.00,201.28 L328.50,201.33 L329.00,201.38 L329.50,201.43 L330.00,201.48 L330.50,201.54 L331.00,201.59 L331.50,201.65 L332.00,201.71 L332.50,201.77 L333.00,201.83 L333.50,201.88 L334.00,201.94 L334.50,202.00 L335.00,202.07 L335.50,202.13 L336.00,202.19 L336.50,202.25 L337.00,202.31 L337.50,202.37 L338.00,202.43 L338.50,202.49 L339.00,202.55 L339.50,202.60 L340.00,202.65 L340.50,202.69 L341.00,202.73" fill="none" stroke="#800080" stroke-width="1.2" stroke-linejoin="round"/>
<path d="M60.57,6.32 L60.64,8.97 L60.72,12.33 L60.82,16.30 L60.92,20.77 L61.03,25.60 L61.16,30.70 L61.30,35.93 L61.44,41.19 L61.60,46.35 L61.76,51.29 L61.94,55.91 L62.12,60.09 L62.32,63.94 L62.55,67.68 L62.80,71.31 L63.06,74.85 L63.33,78.28 L63.60,81.63 L63.88,84.90 L64.15,88.09 L64.41,91.21 L64.66,94.26 L64.89,97.26 L65.09,100.21 L65.27,103.10 L65.43,105.92 L65.57,108.67 L65.70,111.35 L65.82,113.96 L65.93,116.50 L66.04,118.97 L66.16,121.37 L66.27,123.70 L66.39,125.96 L66.52,128.15 L66.66,130.28 L66.81,132.30 L66.97,134.20 L67.14,136.00 L67.30,137.71 L67.48,139.35 L67.65,140.94 L67.82,142.50 L68.00,144.04 L68.17,145.57 L68.35,147.13 L68.51,148.72 L68.68,150.36 L68.84,152.05 L69.00,153.77 L69.16,155.50 L69.32,157.24 L69.48,158.98 L69.64,160.71 L69.80,162.43 L69.95,164.12 L70.11,165.77 L70.26,167.38 L70.42,168.94 L70.57,170.44 L70.72,171.88 L70.87,173.27 L71.03,174.61 L71.18,175.91 L71.32,177.18 L71.47,178.42 L71.62,179.64 L71.77,180.83 L71.92,182.02 L72.07,183.19 L72.22,184.37 L72.37,185.55 L72.52,186.74 L72.68,187.95 L72.84,189.18 L73.00,190.40 L73.16,191.61 L73.32,192.79 L73.48,193.94 L73.63,195.04 L73.78,196.09 L73.93,197.07 L74.07,197.96 L74.20,198.78 L74.32,199.49 L74.44,200.10 L74.55,200.64 L74.65,201.11 L74.76,201.52 L74.85,201.89 L74.95,202.22 L75.04,202.54 L75.14,202.84 L75.23,203.15 L75.33,203.48 L75.43,203.83 L75.53,204.21 L75.63,204.62 L75.73,205.03 L75.83,205.45 L75.93,205.86 L76.03,206.25 L76.13,206.61 L76.23,206.94 L76.33,207.22 L76.44,207.44 L76.55,207.59 L76.66,207.67 L76.78,207.67 L76.90,207.61 L77.02,207.48 L77.15,207.30 L77.28,207.07 L77.41,206.80 L77.54,206.50 L77.67,206.17 L77.80,205.82 L77.94,205.47 L78.07,205.10 L78.20,204.74 L78.33,204.37 L78.46,203.97 L78.59,203.54 L78.71,203.08 L78.84,202.61 L78.97,202.13 L79.10,201.63 L79.23,201.13 L79.37,200.62 L79.51,200.11 L79.65,199.61 L79.80,199.12 L79.95,198.63 L80.10,198.13 L80.24,197.62 L80.39,197.10 L80.54,196.58 L80.70,196.07 L80.86,195.55 L81.03,195.04 L81.21,194.53 L81.39,194.04 L81.59,193.56 L81.80,193.09 L82.03,192.64 L82.27,192.20 L82.52,191.76 L82.79,191.33 L83.06,190.90 L83.34,190.49 L83.62,190.08 L83.90,189.68 L84.19,189.28 L84.46,188.90 L84.74,188.52 L85.00,188.15 L85.25,187.79 L85.50,187.46 L85.74,187.14 L85.98,186.83 L86.21,186.53 L86.45,186.23 L86.69,185.93 L86.93,185.63 L87.18,185.32 L87.44,185.00 L87.72,184.66 L88.00,184.30 L88.30,183.92 L88.61,183.54 L88.93,183.15 L89.26,182.74 L89.60,182.33 L89.94,181.91 L90.28,181.49 L90.63,181.05 L90.98,180.61 L91.32,180.16 L91.66,179.71 L92.00,179.25 L92.50,178.45 L93.00,177.63 L93.50,176.80 L94.00,176.00 L94.50,175.25 L95.00,174.57 L95.50,174.00 L96.00,173.53 L96.50,173.16 L97.00,172.88 L97.50,172.67 L98.00,172.50 L98.50,172.35 L99.00,172.23 L99.50,172.12 L100.00,172.02 L100.50,171.90 L101.00,171.78 L101.50,171.65 L102.00,171.51 L102.50,171.38 L103.00,171.25 L103.50,171.14 L104.00,171.04 L104.50,170.96 L105.00,170.92 L105.50,170.92 L106.00,170.95 L106.50,171.05 L107.00,171.20 L107.50,171.41 L108.00,171.70 L108.50,172.05 L109.00,172.47 L109.50,172.95 L110.00,173.47 L110.50,174.03 L111.00,174.59 L111.50,175.16 L112.00,175.72 L112.50,176.24 L113.00,176.74 L113.50,177.19 L114.00,177.61 L114.50,177.99 L115.00,178.33 L115.50,178.65 L116.00,178.94 L116.50,179.22 L117.00,179.48 L117.50,179.72 L118.00,179.96 L118.50,180.19 L119.00,180.42 L119.50,180.63 L120.00,180.85 L120.50,181.05 L121.00,181.25 L121.50,181.44 L122.00,181.63 L122.50,181.81 L123.00,181.99 L123.50,182.16 L124.00,182.32 L124.50,182.48 L125.00,182.63 L125.50,182.77 L126.00,182.90 L126.50,183.02 L127.00,183.13 L127.50,183.23 L128.00,183.32 L128.50,183.40 L129.00,183.46 L129.50,183.50 L130.00,183.52 L130.50,183.52 L131.00,183.50 L131.50,183.45 L132.00,183.39 L132.50,183.30 L133.00,183.19 L133.50,183.06 L134.00,182.91 L134.50,182.74 L135.00,182.55 L135.50,182.35 L136.00,182.14 L136.50,181.91 L137.00,181.69 L137.50,181.45 L138.00,181.22 L138.50,180.99 L139.00,180.75 L139.50,180.52 L140.00,180.28 L140.50,180.04 L141.00,179.79 L141.50,179.53 L142.00,179.27 L142.50,178.99 L143.00,178.71 L143.50,178.42 L144.00,178.13 L144.50,177.84 L145.00,177.56 L145.50,177.29 L146.00,177.02 L146.50,176.77 L147.00,176.53 L147.50,176.30 L148.00,176.09 L148.50,175.89 L149.00,175.70 L149.50,175.52 L150.00,175.35 L150.50,175.19 L151.00,175.04 L151.50,174.90 L152.00,174.77 L152.50,174.64 L153.00,174.52 L153.50,174.40 L154.00,174.29 L154.50,174.17 L155.00,174.07 L155.50,173.96 L156.00,173.86 L156.50,173.76 L157.00,173.66 L157.50,173.56 L158.00,173.46 L158.50,173.36 L159.00,173.26 L159.50,173.17 L160.00,173.07 L160.50,172.97 L161.00,172.87 L161.50,172.77 L162.00,172.67 L162.50,172.57 L163.00,172.47 L163.50,172.36 L164.00,172.26 L164.50,172.15 L165.00,172.04 L165.50,171.93 L166.00,171.82 L166.50,171.70 L167.00,171.58 L167.50,171.45 L168.00,171.33 L168.50,171.19 L169.00,171.06 L169.50,170.92 L170.00,170.77 L170.50,170.62 L171.00,170.47 L171.50,170.31 L172.00,170.15 L172.50,169.98 L173.00,169.81 L173.50,169.64 L174.00,169.46 L174.50,169.29 L175.00,169.10 L175.50,168.92 L176.00,168.73 L176.50,168.54 L177.00,168.35 L177.50,168.16 L178.00,167.97 L178.50,167.78 L179.00,167.58 L179.50,167.39 L180.00,167.19 L180.50,166.99 L181.00,166.80 L181.50,166.60 L182.00,166.40 L182.50,166.21 L183.00,166.02 L183.50,165.82 L184.00,165.63 L184.50,165.44 L185.00,165.25 L185.50,165.07 L186.00,164.88 L186.50,164.71 L187.00,164.53 L187.50,164.36 L188.00,164.20 L188.50,164.04 L189.00,163.88 L189.50,163.73 L190.00,163.59 L190.50,163.45 L191.00,163.32 L191.50,163.20 L192.00,163.08 L192.50,162.97 L193.00,162.87 L193.50,162.78 L194.00,162.70 L194.50,162.64 L195.00,162.59 L195.50,162.55 L196.00,162.54 L196.50,162.54 L197.00,162.55 L197.50,162.58 L198.00,162.62 L198.50,162.67 L199.00,162.73 L199.50,162.80 L200.00,162.88 L200.50,162.97 L201.00,163.06 L201.50,163.16 L202.00,163.26 L202.50,163.38 L203.00,163.50 L203.50,163.62 L204.00,163.75 L204.50,163.89 L205.00,164.03 L205.50,164.17 L206.00,164.32 L206.50,164.48 L207.00,164.63 L207.50,164.79 L208.00,164.95 L208.50,165.11 L209.00,165.28 L209.50,165.45 L210.00,165.62 L210.50,165.79 L211.00,165.96 L211.50,166.13 L212.00,166.31 L212.50,166.48 L213.00,166.66 L213.50,166.83 L214.00,167.01 L214.50,167.19 L215.00,167.37 L215.50,167.55 L216.00,167.73 L216.50,167.92 L217.00,168.11 L217.50,168.30 L218.00,168.49 L218.50,168.68 L219.00,168.88 L219.50,169.08 L220.00,169.28 L220.50,169.48 L221.00,169.68 L221.50,169.88 L222.00,170.08 L222.50,170.29 L223.00,170.50 L223.50,170.70 L224.00,170.91 L224.50,171.12 L225.00,171.32 L225.50,171.53 L226.00,171.74 L226.50,171.95 L227.00,172.15 L227.50,172.36 L228.00,172.57 L228.50,172.77 L229.00,172.98 L229.50,173.18 L230.00,173.39 L230.50,173.59 L231.00,173.79 L231.50,174.00 L232.00,174.20 L232.50,174.41 L233.00,174.61 L233.50,174.82 L234.00,175.02 L234.50,175.23 L235.00,175.43 L235.50,175.63 L236.00,175.84 L236.50,176.04 L237.00,176.24 L237.50,176.44 L238.00,176.63 L238.50,176.82 L239.00,177.01 L239.50,177.19 L240.00,177.37 L240.50,177.54 L241.00,177.70 L241.50,177.85 L242.00,178.00 L242.50,178.15 L243.00,178.29 L243.50,178.43 L244.00,178.57 L244.50,178.71 L245.00,178.85 L245.50,179.00 L246.00,179.16 L246.50,179.33 L247.00,179.51 L247.50,179.71 L248.00,179.92 L248.50,180.14 L249.00,180.38 L249.50,180.63 L250.00,180.89 L250.50,181.17 L251.00,181.47 L251.50,181.77 L252.00,182.08 L252.50,182.40 L253.00,182.73 L253.50,183.06 L254.00,183.39 L254.50,183.72 L255.00,184.06 L255.50,184.39 L256.00,184.72 L256.50,185.05 L257.00,185.37 L257.50,185.69 L258.00,186.00 L258.50,186.30 L259.00,186.60 L259.50,186.89 L260.00,187.17 L260.50,187.45 L261.00,187.72 L261.50,187.99 L262.00,188.26 L262.50,188.52 L263.00,188.79 L263.50,189.05 L264.00,189.30 L264.50,189.56 L265.00,189.81 L265.50,190.06 L266.00,190.31 L266.50,190.56 L267.00,190.80 L267.50,191.04 L268.00,191.28 L268.50,191.52 L269.00,191.75 L269.50,191.98 L270.00,192.20 L270.50,192.43 L271.00,192.65 L271.50,192.86 L272.00,193.07 L272.50,193.28 L273.00,193.48 L273.50,193.68 L274.00,193.88 L274.50,194.06 L275.00,194.25 L275.50,194.42 L276.00,194.60 L276.50,194.76 L277.00,194.92 L277.50,195.08 L278.00,195.23 L278.50,195.38 L279.00,195.52 L279.50,195.65 L280.00,195.78 L280.50,195.90 L281.00,196.02 L281.50,196.13 L282.00,196.24 L282.50,196.34 L283.00,196.44 L283.50,196.53 L284.00,196.62 L284.50,196.71 L285.00,196.79 L285.50,196.86 L286.00,196.93 L286.50,196.99 L287.00,197.05 L287.50,197.10 L288.00,197.15 L288.50,197.19 L289.00,197.22 L289.50,197.25 L290.00,197.28 L290.50,197.30 L291.00,197.32 L291.50,197.34 L292.00,197.35 L292.50,197.37 L293.00,197.38 L293.50,197.39 L294.00,197.40 L294.50,197.41 L295.00,197.42 L295.50,197.43 L296.00,197.44 L296.50,197.46 L297.00,197.47 L297.50,197.49 L298.00,197.51 L298.50,197.52 L299.00,197.54 L299.50,197.56 L300.00,197.58 L300.50,197.60 L301.00,197.62 L301.50,197.64 L302.00,197.66 L302.50,197.68 L303.00,197.70 L303.50,197.72 L304.00,197.73 L304.50,197.75 L305.00,197.77 L305.50,197.79 L306.00,197.81 L306.50,197.83 L307.00,197.84 L307.50,197.86 L308.00,197.88 L308.50,197.90 L309.00,197.92 L309.50,197.93 L310.00,197.95 L310.50,197.97 L311.00,197.98 L311.50,198.00 L312.00,198.01 L312.50,198.03 L313.00,198.04 L313.50,198.05 L314.00,198.05 L314.50,198.06 L315.00,198.07 L315.50,198.07 L316.00,198.08 L316.50,198.08 L317.00,198.09 L317.50,198.09 L318.00,198.10 L318.50,198.11 L319.00,198.12 L319.50,198.14 L320.00,198.15 L320.50,198.17 L321.00,198.20 L321.50,198.22 L322.00,198.25 L322.50,198.29 L323.00,198.33 L323.50,198.37 L324.00,198.42 L324.50,198.47 L325.00,198.52 L325.50,198.59 L326.00,198.65 L326.50,198.72 L327.00,198.79 L327.50,198.87 L328.00,198.95 L328.50,199.03 L329.00,199.12 L329.50,199.21 L330.00,199.30 L330.50,199.39 L331.00,199.48 L331.50,199.57 L332.00,199.67 L332.50,199.77 L333.00,199.87 L333.50,199.96 L334.00,200.06 L334.50,200.17 L335.00,200.27 L335.50,200.37 L336.00,200.47 L336.50,200.58 L337.00,200.68 L337.50,200.78 L338.00,200.88 L338.50,200.98 L339.00,201.08 L339.50,201.17 L340.00,201.25 L340.50,201.32 L341.00,201.38" fill="none" stroke="#8000ff" stroke-width="1.2" stroke-linejoin="round"/>
<path d="M60.10,99.60 L60.16,100.13 L60.23,100.75 L60.31,101.47 L60.41,102.27 L60.51,103.16 L60.62,104.11 L60.73,105.13 L60.85,106.21 L60.96,107.35 L61.08,108.53 L61.19,109.75 L61.30,111.00 L61.40,112.25 L61.49,113.48 L61.57,114.72 L61.64,115.99 L61.72,117.31 L61.81,118.71 L61.90,120.21 L62.00,121.83 L62.12,123.60 L62.25,125.53 L62.41,127.66 L62.60,130.00 L62.82,132.65 L63.07,135.62 L63.34,138.88 L63.64,142.33 L63.95,145.94 L64.27,149.62 L64.60,153.33 L64.93,157.00 L65.24,160.56 L65.55,163.96 L65.84,167.12 L66.10,170.00 L66.35,172.65 L66.58,175.17 L66.81,177.59 L67.03,179.89 L67.24,182.09 L67.45,184.19 L67.65,186.19 L67.85,188.11 L68.04,189.95 L68.23,191.70 L68.42,193.38 L68.60,195.00 L68.78,196.51 L68.95,197.87 L69.12,199.12 L69.28,200.26 L69.43,201.32 L69.59,202.31 L69.74,203.26 L69.89,204.19 L70.04,205.10 L70.19,206.03 L70.34,206.99 L70.50,208.00 L70.65,209.03 L70.80,210.05 L70.95,211.06 L71.09,212.06 L71.24,213.05 L71.38,214.03 L71.53,215.02 L71.69,216.00 L71.85,216.99 L72.02,217.98 L72.20,218.99 L72.40,220.00 L72.61,221.08 L72.85,222.25 L73.09,223.49 L73.35,224.76 L73.62,226.03 L73.89,227.28 L74.16,228.47 L74.43,229.57 L74.69,230.56 L74.94,231.39 L75.18,232.05 L75.40,232.50 L75.60,232.73 L75.79,232.75 L75.97,232.61 L76.13,232.32 L76.29,231.92 L76.45,231.42 L76.61,230.86 L76.77,230.26 L76.93,229.64 L77.11,229.05 L77.30,228.49 L77.50,228.00 L77.72,227.54 L77.94,227.07 L78.17,226.58 L78.41,226.08 L78.66,225.57 L78.91,225.04 L79.17,224.51 L79.43,223.97 L79.69,223.43 L79.96,222.89 L80.23,222.34 L80.50,221.80 L80.77,221.26 L81.03,220.73 L81.28,220.21 L81.54,219.68 L81.80,219.15 L82.06,218.61 L82.34,218.06 L82.63,217.49 L82.94,216.90 L83.27,216.30 L83.62,215.66 L84.00,215.00 L84.42,214.30 L84.87,213.56 L85.35,212.78 L85.85,211.98 L86.37,211.16 L86.91,210.32 L87.44,209.49 L87.98,208.66 L88.51,207.83 L89.03,207.03 L89.53,206.25 L90.00,205.50 L90.45,204.79 L90.87,204.11 L91.28,203.46 L91.68,202.83 L92.07,202.21 L92.46,201.59 L92.85,200.97 L93.24,200.33 L93.65,199.68 L94.08,198.99 L94.53,198.27 L95.00,197.50 L95.50,196.69 L96.02,195.83 L96.56,194.94 L97.12,194.02 L97.69,193.08 L98.27,192.12 L98.85,191.16 L99.43,190.20 L100.00,189.27 L100.50,188.41 L101.00,187.59 L101.50,186.79 L102.00,185.99 L102.50,185.19 L103.00,184.38 L103.50,183.57 L104.00,182.77 L104.50,181.96 L105.00,181.16 L105.50,180.37 L106.00,179.58 L106.50,178.81 L107.00,178.05 L107.50,177.30 L108.00,176.57 L108.50,175.84 L109.00,175.13 L109.50,174.43 L110.00,173.75 L110.50,173.07 L111.00,172.40 L111.50,171.74 L112.00,171.09 L112.50,170.44 L113.00,169.80 L113.50,169.17 L114.00,168.53 L114.50,167.91 L115.00,167.29 L115.50,166.68 L116.00,166.07 L116.50,165.46 L117.00,164.85 L117.50,164.23 L118.00,163.60 L118.50,162.95 L119.00,162.28 L119.50,161.60 L120.00,160.89 L120.50,160.15 L121.00,159.40 L121.50,158.63 L122.00,157.84 L122.50,157.04 L123.00,156.23 L123.50,155.40 L124.00,154.57 L124.50,153.74 L125.00,152.91 L125.50,152.08 L126.00,151.25 L126.50,150.42 L127.00,149.59 L127.50,148.75 L128.00,147.86 L128.50,146.93 L129.00,145.93 L129.50,144.86 L130.00,143.72 L130.50,142.51 L131.00,141.26 L131.50,139.96 L132.00,138.64 L132.50,137.29 L133.00,135.93 L133.50,134.56 L134.00,133.18 L134.50,131.80 L135.00,130.41 L135.50,129.02 L136.00,127.62 L136.50,126.23 L137.00,124.84 L137.50,123.44 L138.00,122.05 L138.50,120.66 L139.00,119.28 L139.50,117.89 L140.00,116.51 L140.50,115.13 L141.00,113.76 L141.50,112.38 L142.00,111.01 L142.50,109.63 L143.00,108.26 L143.50,106.89 L144.00,105.52 L144.50,104.15 L145.00,102.79 L145.50,101.43 L146.00,100.08 L146.50,98.74 L147.00,97.41 L147.50,96.10 L148.00,94.79 L148.50,93.51 L149.00,92.24 L149.50,91.00 L150.00,89.77 L150.50,88.57 L151.00,87.38 L151.50,86.21 L152.00,85.06 L152.50,83.93 L153.00,82.82 L153.50,81.73 L154.00,80.66 L154.50,79.62 L155.00,78.60 L155.50,77.62 L156.00,76.67 L156.50,75.76 L157.00,74.87 L157.50,74.02 L158.00,73.18 L158.50,72.37 L159.00,71.57 L159.50,70.79 L160.00,70.01 L160.50,69.24 L161.00,68.48 L161.50,67.73 L162.00,66.99 L162.50,66.26 L163.00,65.55 L163.50,64.84 L164.00,64.15 L164.50,63.47 L165.00,62.80 L165.50,62.14 L166.00,61.50 L166.50,60.87 L167.00,60.26 L167.50,59.67 L168.00,59.10 L168.50,58.55 L169.00,58.01 L169.50,57.49 L170.00,56.99 L170.50,56.49 L171.00,56.00 L171.50,55.51 L172.00,55.02 L172.50,54.53 L173.00,54.03 L173.50,53.53 L174.00,53.01 L174.50,52.48 L175.00,51.94 L175.50,51.39 L176.00,50.83 L176.50,50.27 L177.00,49.69 L177.50,49.11 L178.00,48.52 L178.50,47.93 L179.00,47.33 L179.50,46.74 L180.00,46.14 L180.50,45.54 L181.00,44.94 L181.50,44.34 L182.00,43.74 L182.50,43.14 L183.00,42.54 L183.50,41.94 L184.00,41.34 L184.50,40.73 L185.00,40.13 L185.50,39.52 L186.00,38.92 L186.50,38.32 L187.00,37.74 L187.50,37.18 L188.00,36.65 L188.50,36.15 L189.00,35.69 L189.50,35.26 L190.00,34.87 L190.50,34.51 L191.00,34.18 L191.50,33.88 L192.00,33.60 L192.50,33.35 L193.00,33.12 L193.50,32.91 L194.00,32.72 L194.50,32.55 L195.00,32.41 L195.50,32.29 L196.00,32.21 L196.50,32.16 L197.00,32.16 L197.50,32.20 L198.00,32.30 L198.50,32.43 L199.00,32.61 L199.50,32.83 L200.00,33.08 L200.50,33.35 L201.00,33.64 L201.50,33.95 L202.00,34.28 L202.50,34.62 L203.00,34.99 L203.50,35.38 L204.00,35.80 L204.50,36.27 L205.00,36.77 L205.50,37.33 L206.00,37.95 L206.50,38.61 L207.00,39.31 L207.50,40.05 L208.00,40.80 L208.50,41.58 L209.00,42.35 L209.50,43.14 L210.00,43.93 L210.50,44.72 L211.00,45.52 L211.50,46.32 L212.00,47.13 L212.50,47.95 L213.00,48.78 L213.50,49.62 L214.00,50.48 L214.50,51.35 L215.00,52.24 L215.50,53.15 L216.00,54.08 L216.50,55.02 L217.00,55.98 L217.50,56.95 L218.00,57.92 L218.50,58.89 L219.00,59.85 L219.50,60.79 L220.00,61.71 L220.50,62.61 L221.00,63.48 L221.50,64.32 L222.00,65.13 L222.50,65.90 L223.00,66.64 L223.50,67.35 L224.00,68.04 L224.50,68.70 L225.00,69.34 L225.50,69.98 L226.00,70.59 L226.50,71.21 L227.00,71.82 L227.50,72.42 L228.00,73.04 L228.50,73.65 L229.00,74.28 L229.50,74.92 L230.00,75.56 L230.50,76.22 L231.00,76.89 L231.50,77.57 L232.00,78.26 L232.50,78.96 L233.00,79.67 L233.50,80.38 L234.00,81.10 L234.50,81.81 L235.00,82.54 L235.50,83.26 L236.00,83.98 L236.50,84.70 L237.00,85.41 L237.50,86.12 L238.00,86.84 L238.50,87.55 L239.00,88.27 L239.50,89.00 L240.00,89.73 L240.50,90.49 L241.00,91.26 L241.50,92.06 L242.00,92.89 L242.50,93.76 L243.00,94.66 L243.50,95.60 L244.00,96.58 L244.50,97.61 L245.00,98.67 L245.50,99.77 L246.00,100.89 L246.50,102.03 L247.00,103.18 L247.50,104.33 L248.00,105.47 L248.50,106.59 L249.00,107.68 L249.50,108.73 L250.00,109.73 L250.50,110.69 L251.00,111.59 L251.50,112.46 L252.00,113.29 L252.50,114.10 L253.00,114.89 L253.50,115.68 L254.00,116.49 L254.50,117.31 L255.00,118.16 L255.50,119.03 L256.00,119.92 L256.50,120.83 L257.00,121.75 L257.50,122.69 L258.00,123.65 L258.50,124.61 L259.00,125.57 L259.50,126.55 L260.00,127.53 L260.50,128.51 L261.00,129.50 L261.50,130.50 L262.00,131.50 L262.50,132.51 L263.00,133.51 L263.50,134.52 L264.00,135.53 L264.50,136.53 L265.00,137.53 L265.50,138.53 L266.00,139.52 L266.50,140.51 L267.00,141.49 L267.50,142.47 L268.00,143.44 L268.50,144.40 L269.00,145.35 L269.50,146.30 L270.00,147.24 L270.50,148.18 L271.00,149.10 L271.50,150.02 L272.00,150.93 L272.50,151.82 L273.00,152.70 L273.50,153.57 L274.00,154.41 L274.50,155.25 L275.00,156.06 L275.50,156.85 L276.00,157.63 L276.50,158.38 L277.00,159.13 L277.50,159.86 L278.00,160.58 L278.50,161.31 L279.00,162.02 L279.50,162.74 L280.00,163.46 L280.50,164.18 L281.00,164.90 L281.50,165.61 L282.00,166.30 L282.50,166.98 L283.00,167.64 L283.50,168.28 L284.00,168.90 L284.50,169.48 L285.00,170.04 L285.50,170.57 L286.00,171.08 L286.50,171.56 L287.00,172.02 L287.50,172.47 L288.00,172.89 L288.50,173.31 L289.00,173.71 L289.50,174.09 L290.00,174.47 L290.50,174.85 L291.00,175.21 L291.50,175.57 L292.00,175.93 L292.50,176.28 L293.00,176.62 L293.50,176.97 L294.00,177.31 L294.50,177.65 L295.00,177.98 L295.50,178.31 L296.00,178.64 L296.50,178.96 L297.00,179.28 L297.50,179.59 L298.00,179.89 L298.50,180.20 L299.00,180.50 L299.50,180.80 L300.00,181.09 L300.50,181.38 L301.00,181.67 L301.50,181.96 L302.00,182.25 L302.50,182.54 L303.00,182.83 L303.50,183.13 L304.00,183.42 L304.50,183.71 L305.00,184.01 L305.50,184.31 L306.00,184.61 L306.50,184.92 L307.00,185.22 L307.50,185.52 L308.00,185.83 L308.50,186.13 L309.00,186.43 L309.50,186.73 L310.00,187.03 L310.50,187.32 L311.00,187.61 L311.50,187.90 L312.00,188.18 L312.50,188.46 L313.00,188.73 L313.50,189.01 L314.00,189.28 L314.50,189.55 L315.00,189.82 L315.50,190.08 L316.00,190.35 L316.50,190.61 L317.00,190.87 L317.50,191.14 L318.00,191.40 L318.50,191.66 L319.00,191.92 L319.50,192.18 L320.00,192.43 L320.50,192.69 L321.00,192.95 L321.50,193.21 L322.00,193.46 L322.50,193.72 L323.00,193.97 L323.50,194.23 L324.00,194.49 L324.50,194.74 L325.00,195.00 L325.50,195.25 L326.00,195.51 L326.50,195.76 L327.00,196.02 L327.50,196.27 L328.00,196.52 L328.50,196.78 L329.00,197.03 L329.50,197.28 L330.00,197.53 L330.50,197.79 L331.00,198.04 L331.50,198.30 L332.00,198.55 L332.50,198.81 L333.00,199.07 L333.50,199.33 L334.00,199.59 L334.50,199.85 L335.00,200.12 L335.50,200.39 L336.00,200.67 L336.50,200.96 L337.00,201.26 L337.50,201.57 L338.00,201.90 L338.50,202.23 L339.00,202.57 L339.50,202.90 L340.00,203.21 L340.50,203.49 L341.00,203.72" fill="none" stroke="#8c1a22" stroke-width="1.2" stroke-linejoin="round"/></g>
<line x1="435.60" y1="0.00" x2="435.60" y2="234.10" stroke="#000" stroke-width="1"/>
<line x1="435.10" y1="233.60" x2="728.00" y2="233.60" stroke="#000" stroke-width="1"/>
<line x1="431.60" y1="213.90" x2="435.60" y2="213.90" stroke="#000" stroke-width="1"/>
<text x="428.20" y="217.40" font-size="11.5" text-anchor="end" >300</text>
<line x1="431.60" y1="175.12" x2="435.60" y2="175.12" stroke="#000" stroke-width="1"/>
<text x="428.20" y="178.62" font-size="11.5" text-anchor="end" >400</text>
<line x1="431.60" y1="136.34" x2="435.60" y2="136.34" stroke="#000" stroke-width="1"/>
<text x="428.20" y="139.84" font-size="11.5" text-anchor="end" >500</text>
<line x1="431.60" y1="97.56" x2="435.60" y2="97.56" stroke="#000" stroke-width="1"/>
<text x="428.20" y="101.06" font-size="11.5" text-anchor="end" >600</text>
<line x1="431.60" y1="58.78" x2="435.60" y2="58.78" stroke="#000" stroke-width="1"/>
<text x="428.20" y="62.28" font-size="11.5" text-anchor="end" >700</text>
<line x1="431.60" y1="20.00" x2="435.60" y2="20.00" stroke="#000" stroke-width="1"/>
<text x="428.20" y="23.50" font-size="11.5" text-anchor="end" >800</text>
<line x1="433.60" y1="233.29" x2="435.60" y2="233.29" stroke="#000" stroke-width="1"/>
<line x1="433.60" y1="194.51" x2="435.60" y2="194.51" stroke="#000" stroke-width="1"/>
<line x1="433.60" y1="155.73" x2="435.60" y2="155.73" stroke="#000" stroke-width="1"/>
<line x1="433.60" y1="116.95" x2="435.60" y2="116.95" stroke="#000" stroke-width="1"/>
<line x1="433.60" y1="78.17" x2="435.60" y2="78.17" stroke="#000" stroke-width="1"/>
<line x1="433.60" y1="39.39" x2="435.60" y2="39.39" stroke="#000" stroke-width="1"/>
<line x1="433.60" y1="0.61" x2="435.60" y2="0.61" stroke="#000" stroke-width="1"/>
<line x1="456.40" y1="233.60" x2="456.40" y2="237.60" stroke="#000" stroke-width="1"/>
<text x="456.40" y="250.20" font-size="11.5" text-anchor="middle" >0</text>
<line x1="498.20" y1="233.60" x2="498.20" y2="237.60" stroke="#000" stroke-width="1"/>
<text x="498.20" y="252.2" font-size="11.5" text-anchor="middle">1x10<tspan font-size="7" dy="-5.6">-7</tspan></text>
<line x1="540.00" y1="233.60" x2="540.00" y2="237.60" stroke="#000" stroke-width="1"/>
<text x="540.00" y="252.2" font-size="11.5" text-anchor="middle">2x10<tspan font-size="7" dy="-5.6">-7</tspan></text>
<line x1="581.80" y1="233.60" x2="581.80" y2="237.60" stroke="#000" stroke-width="1"/>
<text x="581.80" y="252.2" font-size="11.5" text-anchor="middle">3x10<tspan font-size="7" dy="-5.6">-7</tspan></text>
<line x1="623.60" y1="233.60" x2="623.60" y2="237.60" stroke="#000" stroke-width="1"/>
<text x="623.60" y="252.2" font-size="11.5" text-anchor="middle">4x10<tspan font-size="7" dy="-5.6">-7</tspan></text>
<line x1="665.40" y1="233.60" x2="665.40" y2="237.60" stroke="#000" stroke-width="1"/>
<text x="665.40" y="252.2" font-size="11.5" text-anchor="middle">5x10<tspan font-size="7" dy="-5.6">-7</tspan></text>
<line x1="707.20" y1="233.60" x2="707.20" y2="237.60" stroke="#000" stroke-width="1"/>
<text x="707.20" y="252.2" font-size="11.5" text-anchor="middle">6x10<tspan font-size="7" dy="-5.6">-7</tspan></text>
<line x1="435.50" y1="233.60" x2="435.50" y2="235.60" stroke="#000" stroke-width="1"/>
<line x1="477.30" y1="233.60" x2="477.30" y2="235.60" stroke="#000" stroke-width="1"/>
<line x1="519.10" y1="233.60" x2="519.10" y2="235.60" stroke="#000" stroke-width="1"/>
<line x1="560.90" y1="233.60" x2="560.90" y2="235.60" stroke="#000" stroke-width="1"/>
<line x1="602.70" y1="233.60" x2="602.70" y2="235.60" stroke="#000" stroke-width="1"/>
<line x1="644.50" y1="233.60" x2="644.50" y2="235.60" stroke="#000" stroke-width="1"/>
<line x1="686.30" y1="233.60" x2="686.30" y2="235.60" stroke="#000" stroke-width="1"/>
<text x="581.80" y="270.00" font-size="12.7" text-anchor="middle" >[DNA] (M)</text>
<text x="398.00" y="116.50" font-size="12.5" text-anchor="middle" transform="rotate(-90 398.0 116.5)">Intensity (a.u)</text>
<text x="368.8" y="13.2" font-size="17.5">b<tspan x="379.5">)</tspan></text>
<path d="M456.40,19.63 L457.00,19.63 L457.04,29.36 L457.16,46.36 L457.36,64.80 L457.64,82.19 L458.00,97.57 L458.44,110.75 L458.96,121.90 L459.56,131.29 L460.24,139.19 L461.00,145.87 L461.84,151.54 L462.76,156.38 L463.76,160.54 L464.84,164.13 L466.00,167.26 L467.24,169.99 L468.56,172.39 L469.96,174.51 L471.44,176.40 L473.00,178.07 L474.64,179.58 L476.36,180.93 L478.16,182.15 L480.04,183.25 L482.00,184.26 L484.04,185.17 L486.16,186.01 L488.36,186.77 L490.64,187.48 L493.00,188.13 L495.44,188.73 L497.96,189.28 L500.56,189.80 L503.24,190.28 L506.00,190.72 L508.84,191.14 L511.76,191.52 L514.76,191.89 L517.84,192.23 L521.00,192.55 L524.24,192.85 L527.56,193.13 L530.96,193.40 L534.44,193.65 L538.00,193.89 L541.64,194.11 L545.36,194.33 L549.16,194.53 L553.04,194.72 L557.00,194.90 L561.04,195.08 L565.16,195.24 L569.36,195.40 L573.64,195.55 L578.00,195.69 L582.44,195.83 L586.96,195.96 L591.56,196.09 L596.24,196.21 L601.00,196.32 L605.84,196.43 L610.76,196.54 L615.76,196.64 L620.84,196.74 L626.00,196.83 L631.24,196.92 L636.56,197.01 L641.96,197.09 L647.44,197.17 L653.00,197.25 L658.64,197.32 L664.36,197.39 L670.16,197.46 L676.04,197.53 L682.00,197.60 L688.04,197.66 L694.16,197.72 L700.36,197.78 L706.64,197.83 L713.00,197.89 L714.00,197.90" fill="none" stroke="#000" stroke-width="1.1"/>
<rect x="454.35" y="17.35" width="4.5" height="4.5" fill="#000"/>
<rect x="456.05" y="105.65" width="4.5" height="4.5" fill="#000"/>
<rect x="458.35" y="137.85" width="4.5" height="4.5" fill="#000"/>
<rect x="460.45" y="148.95" width="4.5" height="4.5" fill="#000"/>
<rect x="480.65" y="170.65" width="4.5" height="4.5" fill="#000"/>
<rect x="520.55" y="181.05" width="4.5" height="4.5" fill="#000"/>
<rect x="579.65" y="189.75" width="4.5" height="4.5" fill="#000"/>
<rect x="637.25" y="199.25" width="4.5" height="4.5" fill="#000"/>
<rect x="710.85" y="209.85" width="4.5" height="4.5" fill="#000"/>
</svg></body></html>
